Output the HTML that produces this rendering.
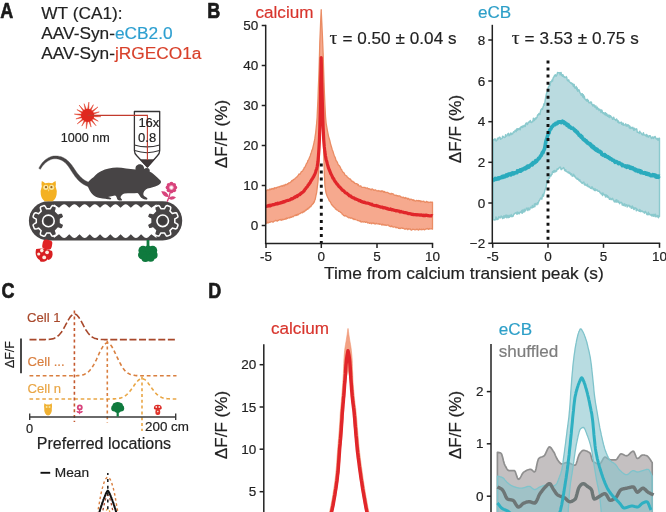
<!DOCTYPE html>
<html lang="en"><head><meta charset="utf-8"><title>Figure</title>
<style>
html,body{margin:0;padding:0;background:#fff;}
body{width:666px;height:512px;overflow:hidden;font-family:"Liberation Sans",sans-serif;}
svg{display:block;}
svg text{font-family:"Liberation Sans",sans-serif;stroke-width:0.18px;}
.lbl{font-weight:bold;font-size:17px;fill:#1a1a1a;}
.t17{font-size:17.1px;fill:#222;stroke:#222;}
.tk{font-size:13.5px;fill:#222;stroke:#222;}
.tau{font-family:"Liberation Serif",serif;font-size:19.5px;}
.ax{stroke:#222;stroke-width:1.5;fill:none;}
</style></head><body>
<svg width="666" height="512" viewBox="0 0 666 512">
<rect width="666" height="512" fill="#fff"/>
<text class="lbl" transform="translate(0.3 18.0) scale(0.8 1)" style="font-size:22.5px;stroke:#1a1a1a;stroke-width:0.7px;stroke-linejoin:round">A</text>
<text class="lbl" transform="translate(207.2 18.0) scale(0.8 1)" style="font-size:22.5px;stroke:#1a1a1a;stroke-width:0.7px;stroke-linejoin:round">B</text>
<text class="lbl" transform="translate(1.6 298.0) scale(0.8 1)" style="font-size:22.5px;stroke:#1a1a1a;stroke-width:0.7px;stroke-linejoin:round">C</text>
<text class="lbl" transform="translate(208.3 297.6) scale(0.8 1)" style="font-size:22.5px;stroke:#1a1a1a;stroke-width:0.7px;stroke-linejoin:round">D</text>
<text class="t17" x="41.3" y="18.8" style="font-size:17.3px">WT (CA1):</text>
<text class="t17" x="41.3" y="38.5" style="font-size:17.3px">AAV-Syn-<tspan fill="#2d9fd0" stroke="#2d9fd0">eCB2.0</tspan></text>
<text class="t17" x="41.3" y="58.8" style="font-size:17.3px">AAV-Syn-<tspan fill="#d8402a" stroke="#d8402a">jRGECO1a</tspan></text>
<text class="t17" x="255.5" y="17.8" fill="#d8342c" style="fill:#d8342c;stroke:#d8342c">calcium</text>
<text class="t17" x="478" y="18" style="fill:#2d9fc8;stroke:#2d9fc8">eCB</text>
<text class="t17" x="329.6" y="44" style="word-spacing:0.2px"><tspan class="tau">τ</tspan> = 0.50 ± 0.04 s</text>
<text class="t17" x="511.7" y="44" style="word-spacing:0.2px"><tspan class="tau">τ</tspan> = 3.53 ± 0.75 s</text>
<text class="t17" x="324" y="279" style="font-size:17.35px">Time from calcium transient peak (s)</text>
<text class="t17" text-anchor="middle" transform="translate(227.2 134.0) rotate(-90)">ΔF/F (%)</text>
<text class="t17" text-anchor="middle" transform="translate(461.4 129.0) rotate(-90)">ΔF/F (%)</text>
<text class="t17" text-anchor="middle" transform="translate(227.2 425.0) rotate(-90)">ΔF/F (%)</text>
<text class="t17" text-anchor="middle" transform="translate(461.4 425.0) rotate(-90)">ΔF/F (%)</text>
<text class="t17" x="271" y="334" style="fill:#d8342c;stroke:#d8342c">calcium</text>
<text class="t17" x="498.8" y="335" style="fill:#2d9fc8;stroke:#2d9fc8">eCB</text>
<text class="t17" x="498.8" y="357" style="fill:#7d7d7d;stroke:#7d7d7d">shuffled</text>
<path d="M266.0 190.2 L266.5 190.9 L266.9 190.6 L267.4 189.9 L267.8 190.1 L268.3 189.9 L268.8 190.0 L269.2 190.0 L269.7 189.1 L270.1 188.9 L270.6 189.7 L271.1 189.1 L271.5 189.4 L272.0 188.4 L272.4 188.8 L272.9 189.0 L273.4 188.3 L273.8 189.0 L274.3 188.9 L274.7 187.7 L275.2 187.6 L275.7 188.1 L276.1 188.4 L276.6 187.6 L277.0 187.3 L277.5 187.4 L278.0 186.8 L278.4 186.9 L278.9 187.0 L279.3 187.0 L279.8 186.5 L280.3 186.4 L280.7 186.2 L281.2 186.3 L281.6 186.0 L282.1 185.5 L282.6 186.3 L283.0 185.8 L283.5 185.7 L283.9 185.0 L284.4 185.8 L284.9 185.4 L285.3 184.3 L285.8 184.4 L286.2 184.7 L286.7 184.4 L287.2 184.5 L287.6 183.6 L288.1 183.9 L288.5 183.4 L289.0 182.7 L289.5 182.8 L289.9 182.8 L290.4 182.5 L290.8 181.8 L291.3 181.6 L291.8 180.6 L292.2 180.5 L292.7 180.8 L293.1 180.0 L293.6 179.3 L294.1 179.4 L294.5 179.2 L295.0 178.8 L295.4 178.0 L295.9 177.7 L296.4 177.3 L296.8 177.2 L297.3 176.5 L297.7 175.9 L298.2 175.5 L298.7 174.5 L299.1 174.0 L299.6 174.3 L300.0 174.2 L300.5 173.2 L301.0 172.4 L301.4 171.6 L301.9 171.4 L302.3 171.4 L302.8 170.5 L303.3 169.5 L303.7 169.2 L304.2 167.7 L304.6 167.3 L305.1 167.0 L305.6 165.7 L306.0 164.7 L306.5 163.6 L306.9 163.0 L307.4 162.5 L307.9 160.4 L308.3 160.3 L308.8 159.3 L309.2 158.3 L309.7 157.0 L310.2 156.0 L310.6 154.5 L311.1 153.3 L311.5 151.8 L312.0 150.0 L312.5 149.5 L312.9 147.5 L313.4 145.3 L313.8 143.7 L314.3 141.5 L314.8 138.9 L315.2 135.9 L315.7 132.6 L316.1 128.6 L316.6 123.7 L317.1 117.7 L317.5 108.9 L318.0 98.6 L318.4 86.6 L318.9 74.1 L319.4 58.3 L319.8 42.6 L320.3 30.8 L320.7 20.5 L321.2 9.7 L321.2 10.4 L321.8 22.9 L322.4 35.5 L323.1 52.9 L323.7 73.1 L324.3 90.4 L324.9 104.9 L325.5 116.3 L326.1 123.1 L326.8 127.2 L327.4 130.5 L328.0 133.6 L328.6 136.6 L329.2 138.5 L329.9 140.9 L330.5 143.8 L331.1 145.7 L331.7 147.7 L332.3 149.9 L332.9 151.3 L333.6 153.6 L334.2 155.4 L334.8 156.7 L335.4 158.1 L336.0 160.5 L336.7 161.3 L337.3 162.2 L337.9 163.8 L338.5 165.2 L339.1 165.3 L339.8 166.4 L340.4 167.5 L341.0 169.2 L341.6 169.5 L342.2 171.0 L342.8 171.9 L343.5 172.5 L344.1 173.0 L344.7 174.6 L345.3 175.2 L345.9 175.5 L346.6 175.8 L347.2 177.0 L347.8 177.3 L348.4 178.1 L349.0 178.3 L349.6 179.2 L350.3 179.0 L350.9 179.8 L351.5 181.1 L352.1 181.4 L352.7 181.2 L353.4 182.3 L354.0 182.1 L354.6 183.3 L355.2 183.5 L355.8 183.5 L356.4 183.7 L357.1 183.7 L357.7 185.1 L358.3 184.5 L358.9 185.7 L359.5 186.2 L360.2 186.0 L360.8 185.9 L361.4 187.0 L362.0 187.3 L362.6 187.3 L363.2 187.3 L363.9 187.3 L364.5 187.5 L365.1 187.5 L365.7 188.2 L366.3 188.1 L367.0 188.0 L367.6 188.0 L368.2 188.9 L368.8 188.6 L369.4 189.0 L370.0 188.9 L370.7 189.7 L371.3 189.8 L371.9 188.9 L372.5 189.2 L373.1 189.5 L373.8 190.4 L374.4 190.3 L375.0 189.8 L375.6 189.8 L376.2 190.5 L376.9 190.8 L377.5 191.0 L378.1 190.4 L378.7 191.1 L379.3 191.0 L379.9 190.9 L380.6 191.6 L381.2 190.8 L381.8 191.5 L382.4 190.9 L383.0 191.1 L383.7 192.2 L384.3 191.5 L384.9 192.3 L385.5 192.2 L386.1 192.7 L386.7 192.3 L387.4 192.4 L388.0 192.6 L388.6 193.4 L389.2 193.3 L389.8 193.9 L390.5 194.0 L391.1 193.3 L391.7 194.0 L392.3 193.7 L392.9 193.8 L393.5 194.0 L394.2 195.2 L394.8 195.3 L395.4 195.5 L396.0 195.1 L396.6 195.6 L397.3 196.0 L397.9 195.7 L398.5 196.1 L399.1 195.9 L399.7 195.9 L400.3 196.3 L401.0 197.2 L401.6 197.0 L402.2 197.7 L402.8 197.3 L403.4 197.2 L404.1 198.0 L404.7 198.3 L405.3 197.5 L405.9 198.5 L406.5 198.0 L407.1 198.2 L407.8 199.3 L408.4 198.4 L409.0 198.8 L409.6 199.9 L410.2 199.4 L410.9 199.2 L411.5 199.4 L412.1 199.6 L412.7 200.4 L413.3 199.7 L413.9 200.8 L414.6 200.3 L415.2 201.1 L415.8 201.1 L416.4 200.5 L417.0 200.5 L417.7 200.9 L418.3 200.5 L418.9 201.2 L419.5 200.6 L420.1 200.6 L420.8 201.9 L421.4 201.1 L422.0 201.5 L422.6 201.4 L423.2 201.3 L423.8 201.1 L424.5 202.2 L425.1 202.3 L425.7 202.4 L426.3 201.4 L426.9 201.6 L427.6 202.1 L428.2 202.6 L428.8 202.2 L429.4 202.4 L430.0 202.4 L430.6 202.0 L431.3 202.4 L431.9 202.2 L432.5 202.2 L432.5 229.2 L431.9 229.0 L431.3 228.7 L430.6 228.8 L430.0 228.9 L429.4 228.5 L428.8 229.4 L428.2 229.1 L427.6 228.4 L426.9 229.0 L426.3 228.7 L425.7 229.2 L425.1 229.5 L424.5 229.8 L423.8 229.1 L423.2 229.5 L422.6 229.3 L422.0 229.8 L421.4 229.1 L420.8 229.7 L420.1 229.5 L419.5 229.0 L418.9 229.8 L418.3 230.1 L417.7 229.6 L417.0 229.1 L416.4 229.6 L415.8 229.5 L415.2 229.8 L414.6 229.8 L413.9 229.3 L413.3 229.3 L412.7 229.1 L412.1 229.7 L411.5 230.1 L410.9 229.9 L410.2 228.9 L409.6 228.8 L409.0 229.1 L408.4 228.7 L407.8 229.7 L407.1 228.8 L406.5 228.5 L405.9 229.2 L405.3 228.9 L404.7 229.2 L404.1 228.8 L403.4 228.4 L402.8 228.1 L402.2 228.3 L401.6 227.9 L401.0 227.9 L400.3 228.5 L399.7 228.5 L399.1 228.2 L398.5 228.3 L397.9 227.6 L397.3 227.6 L396.6 227.2 L396.0 227.7 L395.4 227.1 L394.8 226.9 L394.2 226.9 L393.5 227.1 L392.9 227.0 L392.3 226.7 L391.7 225.8 L391.1 226.5 L390.5 226.6 L389.8 226.1 L389.2 226.2 L388.6 225.2 L388.0 225.1 L387.4 225.0 L386.7 225.2 L386.1 225.5 L385.5 225.0 L384.9 224.9 L384.3 225.0 L383.7 224.4 L383.0 225.0 L382.4 224.1 L381.8 225.0 L381.2 224.3 L380.6 224.1 L379.9 223.7 L379.3 224.3 L378.7 223.7 L378.1 224.0 L377.5 223.8 L376.9 223.8 L376.2 223.2 L375.6 223.9 L375.0 224.0 L374.4 223.3 L373.8 223.0 L373.1 223.6 L372.5 222.8 L371.9 223.1 L371.3 223.7 L370.7 222.8 L370.0 223.1 L369.4 223.4 L368.8 222.8 L368.2 222.6 L367.6 223.0 L367.0 222.0 L366.3 222.0 L365.7 222.4 L365.1 222.1 L364.5 221.6 L363.9 222.1 L363.2 221.9 L362.6 221.6 L362.0 221.9 L361.4 222.0 L360.8 221.8 L360.2 220.8 L359.5 221.2 L358.9 220.6 L358.3 220.6 L357.7 220.5 L357.1 220.0 L356.4 219.8 L355.8 219.6 L355.2 219.3 L354.6 219.2 L354.0 219.6 L353.4 218.7 L352.7 218.8 L352.1 218.1 L351.5 217.9 L350.9 218.3 L350.3 217.9 L349.6 217.5 L349.0 217.8 L348.4 217.6 L347.8 217.1 L347.2 216.8 L346.6 216.1 L345.9 216.0 L345.3 215.4 L344.7 216.0 L344.1 215.6 L343.5 215.3 L342.8 214.3 L342.2 214.1 L341.6 213.0 L341.0 212.7 L340.4 212.1 L339.8 211.7 L339.1 211.3 L338.5 211.3 L337.9 210.2 L337.3 210.1 L336.7 209.8 L336.0 208.9 L335.4 209.1 L334.8 207.6 L334.2 207.4 L333.6 206.6 L332.9 206.1 L332.3 204.8 L331.7 204.9 L331.1 203.5 L330.5 202.2 L329.9 201.4 L329.2 200.7 L328.6 199.0 L328.0 198.0 L327.4 196.8 L326.8 195.3 L326.1 193.0 L325.5 190.0 L324.9 185.4 L324.3 172.3 L323.7 152.3 L323.1 127.7 L322.4 101.2 L321.8 79.6 L321.2 60.3 L321.2 60.1 L320.7 91.2 L320.3 118.2 L319.8 141.9 L319.4 156.8 L318.9 165.9 L318.4 174.6 L318.0 181.4 L317.5 185.5 L317.1 189.0 L316.6 192.9 L316.1 194.9 L315.7 196.9 L315.2 199.5 L314.8 200.1 L314.3 202.2 L313.8 202.0 L313.4 203.5 L312.9 203.5 L312.5 204.4 L312.0 204.5 L311.5 205.8 L311.1 205.9 L310.6 206.9 L310.2 206.5 L309.7 207.0 L309.2 208.1 L308.8 208.1 L308.3 208.0 L307.9 209.3 L307.4 208.8 L306.9 209.2 L306.5 210.0 L306.0 209.6 L305.6 210.7 L305.1 210.4 L304.6 211.5 L304.2 211.6 L303.7 212.0 L303.3 211.3 L302.8 212.2 L302.3 212.8 L301.9 212.6 L301.4 212.4 L301.0 212.8 L300.5 213.3 L300.0 213.6 L299.6 213.7 L299.1 213.9 L298.7 214.3 L298.2 214.8 L297.7 214.2 L297.3 215.2 L296.8 214.6 L296.4 215.5 L295.9 214.8 L295.4 215.6 L295.0 215.4 L294.5 215.4 L294.1 215.9 L293.6 216.4 L293.1 216.8 L292.7 216.5 L292.2 216.5 L291.8 217.2 L291.3 217.3 L290.8 216.9 L290.4 217.6 L289.9 217.3 L289.5 218.0 L289.0 217.6 L288.5 217.8 L288.1 217.9 L287.6 218.3 L287.2 218.5 L286.7 217.9 L286.2 219.0 L285.8 219.1 L285.3 218.5 L284.9 219.2 L284.4 219.3 L283.9 219.5 L283.5 219.5 L283.0 219.6 L282.6 219.9 L282.1 219.1 L281.6 219.8 L281.2 220.3 L280.7 219.9 L280.3 219.5 L279.8 219.9 L279.3 219.6 L278.9 220.0 L278.4 220.4 L278.0 220.5 L277.5 221.0 L277.0 220.5 L276.6 220.6 L276.1 220.8 L275.7 220.4 L275.2 220.5 L274.7 220.9 L274.3 221.2 L273.8 221.4 L273.4 222.0 L272.9 222.1 L272.4 221.9 L272.0 221.6 L271.5 221.7 L271.1 221.5 L270.6 222.1 L270.1 222.2 L269.7 222.3 L269.2 222.1 L268.8 222.6 L268.3 222.8 L267.8 223.0 L267.4 222.2 L266.9 222.3 L266.5 223.4 L266.0 223.5Z" fill="#f6a98e" stroke="#ea8c64" stroke-width="1.3" stroke-linejoin="round"/>
<path d="M321.3 163.5 V243" stroke="#111" stroke-width="2.9" stroke-dasharray="3 4.05" fill="none"/>
<path d="M266.0 206.3 L266.5 206.4 L266.9 206.2 L267.4 206.2 L267.8 206.1 L268.3 205.6 L268.8 205.4 L269.2 205.9 L269.7 205.4 L270.1 205.2 L270.6 205.7 L271.1 205.2 L271.5 205.3 L272.0 204.9 L272.4 204.9 L272.9 204.5 L273.4 204.7 L273.8 204.8 L274.3 204.4 L274.7 204.4 L275.2 204.3 L275.7 203.7 L276.1 204.1 L276.6 203.9 L277.0 203.6 L277.5 203.2 L278.0 203.7 L278.4 203.3 L278.9 203.4 L279.3 203.3 L279.8 203.1 L280.3 203.1 L280.7 202.6 L281.2 202.8 L281.6 202.4 L282.1 202.6 L282.6 202.4 L283.0 201.7 L283.5 201.6 L283.9 201.5 L284.4 201.9 L284.9 201.4 L285.3 201.3 L285.8 200.9 L286.2 200.9 L286.7 200.7 L287.2 200.5 L287.6 200.5 L288.1 200.3 L288.5 200.3 L289.0 200.0 L289.5 200.0 L289.9 199.8 L290.4 199.7 L290.8 199.3 L291.3 198.7 L291.8 199.0 L292.2 198.9 L292.7 198.6 L293.1 198.2 L293.6 198.1 L294.1 197.5 L294.5 197.7 L295.0 197.3 L295.4 196.8 L295.9 196.4 L296.4 196.7 L296.8 196.6 L297.3 195.7 L297.7 195.9 L298.2 195.3 L298.7 194.9 L299.1 194.7 L299.6 194.7 L300.0 194.5 L300.5 193.5 L301.0 193.6 L301.4 192.9 L301.9 193.0 L302.3 192.3 L302.8 192.2 L303.3 191.9 L303.7 191.1 L304.2 190.9 L304.6 189.9 L305.1 189.2 L305.6 189.0 L306.0 188.0 L306.5 187.6 L306.9 187.1 L307.4 186.6 L307.9 185.6 L308.3 184.9 L308.8 184.7 L309.2 183.6 L309.7 183.3 L310.2 182.6 L310.6 181.4 L311.1 180.7 L311.5 179.9 L312.0 179.3 L312.5 178.5 L312.9 177.7 L313.4 177.0 L313.8 176.4 L314.3 175.2 L314.8 174.2 L315.2 173.3 L315.7 171.7 L316.1 170.3 L316.6 169.2 L317.1 167.0 L317.5 164.9 L318.0 161.3 L318.4 156.3 L318.9 149.3 L319.4 140.0 L319.8 128.1 L320.3 106.3 L320.7 82.4 L321.2 57.7 L321.2 57.6 L321.8 81.2 L322.4 103.7 L323.1 126.6 L323.7 139.6 L324.3 146.9 L324.9 152.1 L325.5 156.1 L326.1 159.4 L326.8 161.6 L327.4 164.2 L328.0 166.4 L328.6 168.1 L329.2 169.8 L329.9 171.3 L330.5 172.8 L331.1 174.3 L331.7 175.3 L332.3 176.6 L332.9 178.1 L333.6 178.6 L334.2 180.0 L334.8 181.1 L335.4 181.8 L336.0 182.6 L336.7 183.8 L337.3 184.2 L337.9 185.0 L338.5 185.9 L339.1 186.7 L339.8 187.0 L340.4 187.8 L341.0 188.4 L341.6 189.3 L342.2 189.6 L342.8 190.5 L343.5 190.6 L344.1 191.2 L344.7 192.0 L345.3 192.7 L345.9 192.9 L346.6 193.2 L347.2 193.6 L347.8 194.4 L348.4 194.6 L349.0 195.4 L349.6 195.9 L350.3 195.8 L350.9 196.3 L351.5 197.0 L352.1 197.3 L352.7 197.7 L353.4 197.8 L354.0 197.9 L354.6 198.4 L355.2 199.0 L355.8 198.9 L356.4 199.3 L357.1 199.6 L357.7 199.8 L358.3 200.1 L358.9 200.7 L359.5 200.4 L360.2 200.5 L360.8 201.4 L361.4 201.6 L362.0 201.9 L362.6 201.7 L363.2 202.2 L363.9 202.4 L364.5 202.1 L365.1 202.7 L365.7 202.9 L366.3 203.0 L367.0 203.1 L367.6 203.1 L368.2 203.3 L368.8 203.5 L369.4 203.5 L370.0 204.1 L370.7 204.1 L371.3 204.6 L371.9 204.2 L372.5 205.0 L373.1 205.1 L373.8 205.4 L374.4 205.5 L375.0 205.7 L375.6 205.7 L376.2 205.4 L376.9 206.1 L377.5 205.9 L378.1 206.1 L378.7 206.5 L379.3 206.6 L379.9 206.7 L380.6 207.2 L381.2 207.1 L381.8 207.1 L382.4 207.2 L383.0 207.8 L383.7 207.6 L384.3 208.0 L384.9 207.9 L385.5 207.9 L386.1 208.3 L386.7 208.7 L387.4 208.4 L388.0 209.0 L388.6 209.2 L389.2 209.3 L389.8 209.4 L390.5 209.0 L391.1 209.6 L391.7 209.9 L392.3 209.5 L392.9 209.8 L393.5 210.0 L394.2 210.3 L394.8 210.4 L395.4 210.5 L396.0 210.9 L396.6 210.5 L397.3 210.7 L397.9 210.9 L398.5 211.0 L399.1 211.1 L399.7 211.9 L400.3 211.9 L401.0 211.5 L401.6 212.0 L402.2 212.0 L402.8 212.1 L403.4 212.3 L404.1 212.6 L404.7 212.7 L405.3 212.7 L405.9 212.7 L406.5 213.0 L407.1 213.0 L407.8 213.4 L408.4 213.7 L409.0 213.6 L409.6 213.5 L410.2 213.7 L410.9 213.9 L411.5 214.2 L412.1 214.4 L412.7 214.2 L413.3 214.6 L413.9 214.6 L414.6 214.5 L415.2 214.5 L415.8 214.7 L416.4 214.9 L417.0 214.7 L417.7 215.0 L418.3 214.9 L418.9 214.8 L419.5 215.0 L420.1 215.2 L420.8 214.8 L421.4 215.1 L422.0 215.1 L422.6 215.5 L423.2 215.6 L423.8 215.2 L424.5 215.6 L425.1 215.6 L425.7 215.2 L426.3 215.4 L426.9 215.2 L427.6 215.7 L428.2 215.6 L428.8 215.8 L429.4 215.8 L430.0 215.8 L430.6 215.8 L431.3 215.8 L431.9 215.5 L432.5 215.9" fill="none" stroke="#e1262a" stroke-width="3.2" stroke-linejoin="round"/>
<path class="ax" d="M265.7 24.8 V243.5"/>
<path class="ax" d="M261.7 25.5 H265.7"/>
<text class="tk" text-anchor="end" x="258.2" y="30.1">50</text>
<path class="ax" d="M261.7 65.5 H265.7"/>
<text class="tk" text-anchor="end" x="258.2" y="70.1">40</text>
<path class="ax" d="M261.7 105.5 H265.7"/>
<text class="tk" text-anchor="end" x="258.2" y="110.1">30</text>
<path class="ax" d="M261.7 145.5 H265.7"/>
<text class="tk" text-anchor="end" x="258.2" y="150.1">20</text>
<path class="ax" d="M261.7 185.5 H265.7"/>
<text class="tk" text-anchor="end" x="258.2" y="190.1">10</text>
<path class="ax" d="M261.7 225.5 H265.7"/>
<text class="tk" text-anchor="end" x="258.2" y="230.1">0</text>
<path class="ax" d="M264.9 243.5 H433.2"/>
<path class="ax" d="M266.0 243.5 V248.0"/>
<text class="tk" text-anchor="middle" x="266.0" y="260.8">-5</text>
<path class="ax" d="M321.3 243.5 V248.0"/>
<text class="tk" text-anchor="middle" x="321.3" y="260.8">0</text>
<path class="ax" d="M377.0 243.5 V248.0"/>
<text class="tk" text-anchor="middle" x="377.0" y="260.8">5</text>
<path class="ax" d="M432.5 243.5 V248.0"/>
<text class="tk" text-anchor="middle" x="432.5" y="260.8">10</text>
<path d="M493.0 140.2 L493.5 139.5 L494.0 140.3 L494.5 139.3 L495.0 138.8 L495.5 139.7 L496.0 141.1 L496.5 140.5 L497.0 140.2 L497.5 138.3 L498.0 139.1 L498.6 138.1 L499.1 137.5 L499.6 137.1 L500.1 137.3 L500.6 139.4 L501.1 138.8 L501.6 138.6 L502.1 138.3 L502.6 136.2 L503.1 136.4 L503.6 137.2 L504.1 137.3 L504.6 137.5 L505.1 137.4 L505.6 134.6 L506.1 136.1 L506.6 136.1 L507.1 135.3 L507.6 134.0 L508.1 134.8 L508.6 133.3 L509.1 135.8 L509.6 135.3 L510.2 134.1 L510.7 133.0 L511.2 134.7 L511.7 133.4 L512.2 134.1 L512.7 133.8 L513.2 132.4 L513.7 131.8 L514.2 132.2 L514.7 131.3 L515.2 130.2 L515.7 130.4 L516.2 131.7 L516.7 129.0 L517.2 128.7 L517.7 130.2 L518.2 128.8 L518.7 129.3 L519.2 128.8 L519.7 128.1 L520.2 129.9 L520.8 127.0 L521.3 127.4 L521.8 126.4 L522.3 127.5 L522.8 126.0 L523.3 125.9 L523.8 126.9 L524.3 125.2 L524.8 125.6 L525.3 126.4 L525.8 123.5 L526.3 123.0 L526.8 123.2 L527.3 124.6 L527.8 123.8 L528.3 122.3 L528.8 122.3 L529.3 121.5 L529.8 122.0 L530.3 120.4 L530.8 122.2 L531.3 122.5 L531.9 122.3 L532.4 121.3 L532.9 121.6 L533.4 118.2 L533.9 118.7 L534.4 120.5 L534.9 119.5 L535.4 117.9 L535.9 119.1 L536.4 117.6 L536.9 117.8 L537.4 115.6 L537.9 114.7 L538.4 115.0 L538.9 113.4 L539.4 113.5 L539.9 114.6 L540.4 111.8 L540.9 109.9 L541.4 109.2 L541.9 108.6 L542.4 109.5 L543.0 107.1 L543.5 105.7 L544.0 103.8 L544.5 105.1 L545.0 101.4 L545.5 98.4 L546.0 95.7 L546.5 93.5 L547.0 92.0 L547.5 92.0 L548.0 88.7 L548.5 86.8 L549.0 86.7 L549.5 84.5 L550.0 85.6 L550.5 81.6 L551.0 81.9 L551.5 81.8 L552.0 79.9 L552.5 81.0 L553.0 78.6 L553.5 77.2 L554.0 77.0 L554.6 75.2 L555.1 75.8 L555.6 74.7 L556.1 76.2 L556.6 75.6 L557.1 74.2 L557.6 72.4 L558.1 72.9 L558.6 72.7 L559.1 72.6 L559.6 72.7 L560.1 74.8 L560.6 72.6 L561.1 72.5 L561.6 75.6 L562.1 74.7 L562.6 76.4 L563.1 74.8 L563.6 76.8 L564.1 76.4 L564.6 77.3 L565.1 77.6 L565.7 77.3 L566.2 76.5 L566.7 77.3 L567.2 80.0 L567.7 80.5 L568.2 81.1 L568.7 79.8 L569.2 81.3 L569.7 82.2 L570.2 82.2 L570.7 83.2 L571.2 82.8 L571.7 83.6 L572.2 84.2 L572.7 83.4 L573.2 86.0 L573.7 86.6 L574.2 84.4 L574.7 87.8 L575.2 88.3 L575.7 88.0 L576.2 86.5 L576.8 89.9 L577.3 88.0 L577.8 91.3 L578.3 90.9 L578.8 89.6 L579.3 90.5 L579.8 92.6 L580.3 93.0 L580.8 94.2 L581.3 95.4 L581.8 93.7 L582.3 93.6 L582.8 97.1 L583.3 94.7 L583.8 98.0 L584.3 96.1 L584.8 98.9 L585.3 99.3 L585.8 100.1 L586.3 99.5 L586.8 101.0 L587.4 99.3 L587.9 101.2 L588.4 100.6 L588.9 102.8 L589.4 102.9 L589.9 102.4 L590.4 103.0 L590.9 101.8 L591.4 102.2 L591.9 104.5 L592.4 104.5 L592.9 106.1 L593.4 105.7 L593.9 104.6 L594.4 105.7 L594.9 107.4 L595.4 107.0 L595.9 105.8 L596.4 108.8 L596.9 109.1 L597.4 107.1 L597.9 109.0 L598.5 108.8 L599.0 110.5 L599.5 109.3 L600.0 109.4 L600.5 110.6 L601.0 112.5 L601.5 110.0 L602.0 110.4 L602.5 112.4 L603.0 113.6 L603.5 112.7 L604.0 112.8 L604.5 114.5 L605.0 114.5 L605.5 112.6 L606.0 115.5 L606.5 113.6 L607.0 114.2 L607.5 116.3 L608.0 115.2 L608.5 116.7 L609.0 115.0 L609.5 117.6 L610.1 115.6 L610.6 115.8 L611.1 117.2 L611.6 117.0 L612.1 118.0 L612.6 119.4 L613.1 119.1 L613.6 117.1 L614.1 118.3 L614.6 119.4 L615.1 119.5 L615.6 120.5 L616.1 120.0 L616.6 119.0 L617.1 119.8 L617.6 122.0 L618.1 120.7 L618.6 122.3 L619.1 123.2 L619.6 122.3 L620.1 122.8 L620.6 122.8 L621.2 122.1 L621.7 124.3 L622.2 123.1 L622.7 124.8 L623.2 123.1 L623.7 125.2 L624.2 125.1 L624.7 124.8 L625.2 124.5 L625.7 123.8 L626.2 126.1 L626.7 125.0 L627.2 126.2 L627.7 124.8 L628.2 124.9 L628.7 125.3 L629.2 127.7 L629.7 125.9 L630.2 128.5 L630.7 127.1 L631.2 128.0 L631.8 127.5 L632.3 128.6 L632.8 127.2 L633.3 128.4 L633.8 130.4 L634.3 128.3 L634.8 130.0 L635.3 129.3 L635.8 129.4 L636.3 128.8 L636.8 129.1 L637.3 132.3 L637.8 132.2 L638.3 132.4 L638.8 132.6 L639.3 133.4 L639.8 131.1 L640.3 132.7 L640.8 132.7 L641.3 133.2 L641.8 134.6 L642.3 134.2 L642.9 135.1 L643.4 132.6 L643.9 134.6 L644.4 134.9 L644.9 135.3 L645.4 135.1 L645.9 136.0 L646.4 134.5 L646.9 136.7 L647.4 135.2 L647.9 136.0 L648.4 137.2 L648.9 136.7 L649.4 135.6 L649.9 135.6 L650.4 136.0 L650.9 137.2 L651.4 138.5 L651.9 138.4 L652.4 136.9 L652.9 137.1 L653.4 138.6 L654.0 137.0 L654.5 137.6 L655.0 136.5 L655.5 137.2 L656.0 138.5 L656.5 139.1 L657.0 139.1 L657.5 138.4 L658.0 140.4 L658.5 139.6 L659.0 138.2 L659.5 138.1 L659.5 216.6 L659.0 215.4 L658.5 217.7 L658.0 217.2 L657.5 215.5 L657.0 215.8 L656.5 216.5 L656.0 216.8 L655.5 214.2 L655.0 216.6 L654.5 214.7 L654.0 214.3 L653.4 216.2 L652.9 214.6 L652.4 214.5 L651.9 216.0 L651.4 214.5 L650.9 214.9 L650.4 215.0 L649.9 214.4 L649.4 213.8 L648.9 214.8 L648.4 212.2 L647.9 213.7 L647.4 214.7 L646.9 214.6 L646.4 213.0 L645.9 212.2 L645.4 211.3 L644.9 212.9 L644.4 213.2 L643.9 211.8 L643.4 212.0 L642.9 212.0 L642.3 211.0 L641.8 211.0 L641.3 211.4 L640.8 210.5 L640.3 211.7 L639.8 209.5 L639.3 211.3 L638.8 210.6 L638.3 210.5 L637.8 209.8 L637.3 210.0 L636.8 208.8 L636.3 210.8 L635.8 207.9 L635.3 208.0 L634.8 207.8 L634.3 209.3 L633.8 209.5 L633.3 207.2 L632.8 207.8 L632.3 206.0 L631.8 208.3 L631.2 208.0 L630.7 206.2 L630.2 206.5 L629.7 206.9 L629.2 205.1 L628.7 206.0 L628.2 205.2 L627.7 205.7 L627.2 207.1 L626.7 204.7 L626.2 204.9 L625.7 204.9 L625.2 206.3 L624.7 203.8 L624.2 204.7 L623.7 205.5 L623.2 205.4 L622.7 203.4 L622.2 205.1 L621.7 202.7 L621.2 202.3 L620.6 202.7 L620.1 202.4 L619.6 203.8 L619.1 202.8 L618.6 201.0 L618.1 202.3 L617.6 201.9 L617.1 200.2 L616.6 199.7 L616.1 202.3 L615.6 200.3 L615.1 200.9 L614.6 201.9 L614.1 201.6 L613.6 200.1 L613.1 200.0 L612.6 198.3 L612.1 198.8 L611.6 199.4 L611.1 199.7 L610.6 198.2 L610.1 199.2 L609.5 199.4 L609.0 198.0 L608.5 196.9 L608.0 197.4 L607.5 195.7 L607.0 197.1 L606.5 194.9 L606.0 195.8 L605.5 197.0 L605.0 194.4 L604.5 195.1 L604.0 194.4 L603.5 194.5 L603.0 193.0 L602.5 195.6 L602.0 193.2 L601.5 194.0 L601.0 193.8 L600.5 192.8 L600.0 192.8 L599.5 191.2 L599.0 191.4 L598.5 191.1 L597.9 191.2 L597.4 190.3 L596.9 189.8 L596.4 190.0 L595.9 190.5 L595.4 188.9 L594.9 190.5 L594.4 190.3 L593.9 188.5 L593.4 189.6 L592.9 188.6 L592.4 187.4 L591.9 186.7 L591.4 188.6 L590.9 188.0 L590.4 188.2 L589.9 187.4 L589.4 186.4 L588.9 186.9 L588.4 186.3 L587.9 186.6 L587.4 184.3 L586.8 185.8 L586.3 185.4 L585.8 185.0 L585.3 184.0 L584.8 185.1 L584.3 184.5 L583.8 182.0 L583.3 182.8 L582.8 182.4 L582.3 183.4 L581.8 183.1 L581.3 181.9 L580.8 182.1 L580.3 181.6 L579.8 179.7 L579.3 180.8 L578.8 180.2 L578.3 179.5 L577.8 178.2 L577.3 179.3 L576.8 178.4 L576.2 178.6 L575.7 177.1 L575.2 177.4 L574.7 175.7 L574.2 176.3 L573.7 174.2 L573.2 175.7 L572.7 175.6 L572.2 176.2 L571.7 173.8 L571.2 174.7 L570.7 174.7 L570.2 173.4 L569.7 172.4 L569.2 173.4 L568.7 171.9 L568.2 172.8 L567.7 172.1 L567.2 171.8 L566.7 171.7 L566.2 171.4 L565.7 169.6 L565.1 170.9 L564.6 170.3 L564.1 168.4 L563.6 167.5 L563.1 168.1 L562.6 168.4 L562.1 168.6 L561.6 169.6 L561.1 169.6 L560.6 167.6 L560.1 166.9 L559.6 167.8 L559.1 167.6 L558.6 168.3 L558.1 169.3 L557.6 168.8 L557.1 169.0 L556.6 171.0 L556.1 170.9 L555.6 171.8 L555.1 170.4 L554.6 170.4 L554.0 172.6 L553.5 170.8 L553.0 172.2 L552.5 171.7 L552.0 174.4 L551.5 174.4 L551.0 176.0 L550.5 176.0 L550.0 175.0 L549.5 178.2 L549.0 178.1 L548.5 177.8 L548.0 181.8 L547.5 180.3 L547.0 182.8 L546.5 184.4 L546.0 187.5 L545.5 188.8 L545.0 189.7 L544.5 191.9 L544.0 193.7 L543.5 196.2 L543.0 194.2 L542.4 195.5 L541.9 199.1 L541.4 199.0 L540.9 198.0 L540.4 198.5 L539.9 199.5 L539.4 200.5 L538.9 201.1 L538.4 202.4 L537.9 204.0 L537.4 202.6 L536.9 204.9 L536.4 204.3 L535.9 203.9 L535.4 203.5 L534.9 206.6 L534.4 204.0 L533.9 207.0 L533.4 207.1 L532.9 207.3 L532.4 205.5 L531.9 208.0 L531.3 207.4 L530.8 207.2 L530.3 207.4 L529.8 209.6 L529.3 209.8 L528.8 209.5 L528.3 207.9 L527.8 210.6 L527.3 208.4 L526.8 208.2 L526.3 208.3 L525.8 210.3 L525.3 209.9 L524.8 211.5 L524.3 209.2 L523.8 212.1 L523.3 212.0 L522.8 209.9 L522.3 213.2 L521.8 210.4 L521.3 212.7 L520.8 212.2 L520.2 211.9 L519.7 212.6 L519.2 213.9 L518.7 212.4 L518.2 212.7 L517.7 214.0 L517.2 212.0 L516.7 214.1 L516.2 213.3 L515.7 212.7 L515.2 213.1 L514.7 213.4 L514.2 214.2 L513.7 214.1 L513.2 216.2 L512.7 216.5 L512.2 215.8 L511.7 216.7 L511.2 214.5 L510.7 216.2 L510.2 215.8 L509.6 217.3 L509.1 215.3 L508.6 217.3 L508.1 217.7 L507.6 215.4 L507.1 215.5 L506.6 217.7 L506.1 215.0 L505.6 215.5 L505.1 217.2 L504.6 215.8 L504.1 218.0 L503.6 216.0 L503.1 218.0 L502.6 218.6 L502.1 216.7 L501.6 216.6 L501.1 216.0 L500.6 217.9 L500.1 217.9 L499.6 217.0 L499.1 217.8 L498.6 216.8 L498.0 219.4 L497.5 218.6 L497.0 219.7 L496.5 218.2 L496.0 216.9 L495.5 219.9 L495.0 219.4 L494.5 220.1 L494.0 219.8 L493.5 219.7 L493.0 219.4Z" fill="#badbe0" stroke="#8ac9cd" stroke-width="1.4" stroke-linejoin="round"/>
<path d="M493.0 180.5 L493.6 180.4 L494.1 179.6 L494.7 179.0 L495.2 178.4 L495.8 179.4 L496.3 178.9 L496.9 179.2 L497.4 178.3 L498.0 178.9 L498.6 177.8 L499.1 178.6 L499.7 178.2 L500.2 177.5 L500.8 177.5 L501.3 177.6 L501.9 176.6 L502.4 177.0 L503.0 177.3 L503.5 176.1 L504.1 176.9 L504.7 176.5 L505.2 176.6 L505.8 175.5 L506.3 174.9 L506.9 176.0 L507.4 175.8 L508.0 175.0 L508.5 174.1 L509.1 174.1 L509.6 174.7 L510.2 173.9 L510.8 174.9 L511.3 174.0 L511.9 173.1 L512.4 173.8 L513.0 173.0 L513.5 173.9 L514.1 173.6 L514.6 172.7 L515.2 172.8 L515.8 172.7 L516.3 172.7 L516.9 172.8 L517.4 170.9 L518.0 171.3 L518.5 171.5 L519.1 170.7 L519.6 171.0 L520.2 169.9 L520.8 171.1 L521.3 170.2 L521.9 169.3 L522.4 170.0 L523.0 169.1 L523.5 168.7 L524.1 168.9 L524.6 168.0 L525.2 167.9 L525.7 168.8 L526.3 168.2 L526.9 166.7 L527.4 167.7 L528.0 166.0 L528.5 166.3 L529.1 167.0 L529.6 166.1 L530.2 165.2 L530.7 164.9 L531.3 164.6 L531.9 163.7 L532.4 164.9 L533.0 162.7 L533.5 163.0 L534.1 163.1 L534.6 162.0 L535.2 162.6 L535.7 160.7 L536.3 161.6 L536.8 160.9 L537.4 159.9 L538.0 159.7 L538.5 158.4 L539.1 158.5 L539.6 157.8 L540.2 156.6 L540.7 155.8 L541.3 155.4 L541.8 154.0 L542.4 152.5 L543.0 152.7 L543.5 150.7 L544.1 149.8 L544.6 148.6 L545.2 145.2 L545.7 142.3 L546.3 140.0 L546.8 138.7 L547.4 136.6 L547.9 134.8 L548.5 133.5 L549.1 132.9 L549.6 130.3 L550.2 129.4 L550.7 129.2 L551.3 128.0 L551.8 126.7 L552.4 126.5 L552.9 126.0 L553.5 124.9 L554.0 124.8 L554.6 124.2 L555.2 124.6 L555.7 123.4 L556.3 123.6 L556.8 123.8 L557.4 123.4 L557.9 122.2 L558.5 122.4 L559.0 121.7 L559.6 121.7 L560.2 121.8 L560.7 122.3 L561.3 122.6 L561.8 121.6 L562.4 121.2 L562.9 122.2 L563.5 121.7 L564.0 121.9 L564.6 123.5 L565.1 122.7 L565.7 124.1 L566.3 123.8 L566.8 125.3 L567.4 125.5 L567.9 124.5 L568.5 125.1 L569.0 126.9 L569.6 126.7 L570.1 126.8 L570.7 127.8 L571.3 128.2 L571.8 128.1 L572.4 128.4 L572.9 128.2 L573.5 129.1 L574.0 129.2 L574.6 130.5 L575.1 131.0 L575.7 130.6 L576.2 132.0 L576.8 131.6 L577.4 132.1 L577.9 133.6 L578.5 133.8 L579.0 135.2 L579.6 135.2 L580.1 135.9 L580.7 135.4 L581.2 137.2 L581.8 136.4 L582.4 137.9 L582.9 138.9 L583.5 139.5 L584.0 140.0 L584.6 139.7 L585.1 140.6 L585.7 141.3 L586.2 140.6 L586.8 142.5 L587.4 142.9 L587.9 142.5 L588.5 143.6 L589.0 143.5 L589.6 143.6 L590.1 144.9 L590.7 144.2 L591.2 146.0 L591.8 146.8 L592.3 146.0 L592.9 147.6 L593.5 146.5 L594.0 148.4 L594.6 147.8 L595.1 149.4 L595.7 148.9 L596.2 150.2 L596.8 149.1 L597.3 149.6 L597.9 151.3 L598.5 151.4 L599.0 151.7 L599.6 151.1 L600.1 151.8 L600.7 152.5 L601.2 152.3 L601.8 154.4 L602.3 154.4 L602.9 155.1 L603.4 155.0 L604.0 154.7 L604.6 154.6 L605.1 156.2 L605.7 155.4 L606.2 156.5 L606.8 156.8 L607.3 157.2 L607.9 156.7 L608.4 157.1 L609.0 158.2 L609.5 157.7 L610.1 158.9 L610.7 158.5 L611.2 159.1 L611.8 159.2 L612.3 160.2 L612.9 160.2 L613.4 160.2 L614.0 160.5 L614.5 161.4 L615.1 162.3 L615.7 161.7 L616.2 161.5 L616.8 162.0 L617.3 162.2 L617.9 163.0 L618.4 163.6 L619.0 163.5 L619.5 163.0 L620.1 163.5 L620.6 163.8 L621.2 164.2 L621.8 164.3 L622.3 165.6 L622.9 165.0 L623.4 165.4 L624.0 165.8 L624.5 165.8 L625.1 166.3 L625.6 165.8 L626.2 166.5 L626.8 167.3 L627.3 166.0 L627.9 167.0 L628.4 166.8 L629.0 166.4 L629.5 166.6 L630.1 168.1 L630.6 167.2 L631.2 168.5 L631.8 167.6 L632.3 168.3 L632.9 167.9 L633.4 169.0 L634.0 169.7 L634.5 168.9 L635.1 169.7 L635.6 170.6 L636.2 169.6 L636.7 170.2 L637.3 170.8 L637.9 171.3 L638.4 170.3 L639.0 171.4 L639.5 170.6 L640.1 170.8 L640.6 172.6 L641.2 171.1 L641.7 172.8 L642.3 172.7 L642.9 172.8 L643.4 173.1 L644.0 173.1 L644.5 172.7 L645.1 173.1 L645.6 172.8 L646.2 174.2 L646.7 174.2 L647.3 174.4 L647.8 173.5 L648.4 174.4 L649.0 173.9 L649.5 175.0 L650.1 175.1 L650.6 175.7 L651.2 175.3 L651.7 175.4 L652.3 175.7 L652.8 174.6 L653.4 175.7 L654.0 174.8 L654.5 175.5 L655.1 175.2 L655.6 176.8 L656.2 175.3 L656.7 177.1 L657.3 177.2 L657.8 176.5 L658.4 177.3 L658.9 176.1 L659.5 176.4" fill="none" stroke="#2aabbd" stroke-width="3.6" stroke-linejoin="round"/>
<path d="M548 60.5 V243" stroke="#111" stroke-width="2.9" stroke-dasharray="3 4.05" fill="none"/>
<path class="ax" d="M492.3 24.8 V243.3"/>
<path class="ax" d="M488.3 40.0 H492.3"/>
<text class="tk" text-anchor="end" x="485.2" y="44.6">8</text>
<path class="ax" d="M488.3 81.0 H492.3"/>
<text class="tk" text-anchor="end" x="485.2" y="85.6">6</text>
<path class="ax" d="M488.3 121.7 H492.3"/>
<text class="tk" text-anchor="end" x="485.2" y="126.3">4</text>
<path class="ax" d="M488.3 162.3 H492.3"/>
<text class="tk" text-anchor="end" x="485.2" y="166.9">2</text>
<path class="ax" d="M488.3 203.0 H492.3"/>
<text class="tk" text-anchor="end" x="485.2" y="207.6">0</text>
<path class="ax" d="M488.3 243.3 H492.3"/>
<text class="tk" text-anchor="end" x="485.2" y="247.9">−2</text>
<path class="ax" d="M491.6 243.3 H660.2"/>
<path class="ax" d="M492.7 243.3 V247.8"/>
<text class="tk" text-anchor="middle" x="492.7" y="260.6">-5</text>
<path class="ax" d="M548.0 243.3 V247.8"/>
<text class="tk" text-anchor="middle" x="548.0" y="260.6">0</text>
<path class="ax" d="M603.5 243.3 V247.8"/>
<text class="tk" text-anchor="middle" x="603.5" y="260.6">5</text>
<path class="ax" d="M659.5 243.3 V247.8"/>
<text class="tk" text-anchor="middle" x="659.5" y="260.6">10</text>
<path d="M327.5 520.0 L328.3 516.8 L329.2 513.6 L329.9 510.4 L330.6 507.2 L331.2 504.0 L331.8 500.8 L332.4 497.6 L332.9 494.5 L333.4 491.3 L333.9 488.1 L334.4 484.9 L334.8 481.7 L335.2 478.5 L335.6 475.3 L335.9 472.1 L336.2 468.9 L336.5 465.7 L336.7 462.5 L336.9 459.3 L337.1 456.1 L337.4 452.9 L337.6 449.7 L337.9 446.6 L338.1 443.4 L338.4 440.2 L338.7 437.0 L338.9 433.8 L339.2 430.6 L339.4 427.4 L339.6 424.2 L339.8 421.0 L340.0 417.8 L340.2 414.6 L340.4 411.4 L340.7 408.2 L341.0 405.0 L341.3 401.8 L341.5 398.7 L341.8 395.5 L342.1 392.3 L342.3 389.1 L342.6 385.9 L342.8 382.7 L343.0 379.5 L343.2 376.3 L343.4 373.1 L343.5 369.9 L343.6 366.7 L343.8 363.5 L343.9 360.3 L344.1 357.1 L344.3 353.9 L344.6 350.8 L345.0 347.6 L345.5 344.4 L346.1 341.2 L346.6 338.0 L347.1 334.8 L347.5 331.6 L348.0 328.4 L348.0 328.4 L348.5 331.6 L348.9 334.8 L349.4 338.0 L349.9 341.2 L350.5 344.4 L351.0 347.6 L351.4 350.8 L351.7 353.9 L352.0 357.1 L352.2 360.3 L352.3 363.5 L352.4 366.7 L352.5 369.9 L352.7 373.1 L352.8 376.3 L352.9 379.5 L353.1 382.7 L353.4 385.9 L353.6 389.1 L353.9 392.3 L354.2 395.5 L354.5 398.7 L354.8 401.8 L355.2 405.0 L355.7 408.2 L356.0 411.4 L356.3 414.6 L356.6 417.8 L356.9 421.0 L357.1 424.2 L357.4 427.4 L357.6 430.6 L357.9 433.8 L358.2 437.0 L358.5 440.2 L358.7 443.4 L359.0 446.6 L359.4 449.7 L359.7 452.9 L360.1 456.1 L360.5 459.3 L360.9 462.5 L361.3 465.7 L361.8 468.9 L362.2 472.1 L362.7 475.3 L363.1 478.5 L363.6 481.7 L364.1 484.9 L364.6 488.1 L365.1 491.3 L365.6 494.5 L366.2 497.6 L366.8 500.8 L367.3 504.0 L367.9 507.2 L368.6 510.4 L369.2 513.6 L369.9 516.8 L370.6 520.0Z" fill="#f3a184" stroke="#ee9470" stroke-width="0.6" stroke-linejoin="round"/>
<path d="M330.9 520.0 L331.5 517.5 L332.2 515.0 L332.8 512.5 L333.4 510.1 L333.9 507.6 L334.4 505.1 L334.9 502.6 L335.3 500.1 L335.8 497.6 L336.2 495.2 L336.6 492.7 L337.0 490.2 L337.3 487.7 L337.7 485.2 L338.1 482.8 L338.4 480.3 L338.7 477.8 L339.0 475.3 L339.3 472.8 L339.5 470.3 L339.7 467.9 L339.9 465.4 L340.1 462.9 L340.3 460.4 L340.4 457.9 L340.6 455.4 L340.8 452.9 L340.9 450.5 L341.1 448.0 L341.3 445.5 L341.6 443.0 L341.8 440.5 L342.0 438.1 L342.2 435.6 L342.4 433.1 L342.6 430.6 L342.7 428.1 L342.9 425.6 L343.1 423.1 L343.2 420.7 L343.4 418.2 L343.5 415.7 L343.7 413.2 L343.9 410.7 L344.1 408.2 L344.3 405.8 L344.5 403.3 L344.8 400.8 L345.0 398.3 L345.2 395.8 L345.3 393.4 L345.5 390.9 L345.7 388.4 L345.8 385.9 L346.0 383.4 L346.2 380.9 L346.5 378.4 L346.9 376.0 L347.5 373.5 L348.0 371.0 L348.0 371.0 L348.5 373.5 L349.1 376.0 L349.5 378.4 L349.8 380.9 L350.0 383.4 L350.2 385.9 L350.3 388.4 L350.5 390.9 L350.6 393.4 L350.8 395.8 L351.0 398.3 L351.3 400.8 L351.6 403.3 L351.9 405.8 L352.3 408.2 L352.6 410.7 L352.8 413.2 L353.0 415.7 L353.2 418.2 L353.4 420.7 L353.6 423.1 L353.8 425.6 L354.0 428.1 L354.2 430.6 L354.4 433.1 L354.7 435.6 L354.9 438.1 L355.1 440.5 L355.3 443.0 L355.5 445.5 L355.8 448.0 L356.0 450.5 L356.3 452.9 L356.6 455.4 L356.9 457.9 L357.2 460.4 L357.6 462.9 L357.9 465.4 L358.2 467.9 L358.6 470.3 L358.9 472.8 L359.3 475.3 L359.6 477.8 L360.0 480.3 L360.4 482.8 L360.7 485.2 L361.1 487.7 L361.5 490.2 L361.9 492.7 L362.4 495.2 L362.8 497.6 L363.2 500.1 L363.7 502.6 L364.1 505.1 L364.6 507.6 L365.1 510.1 L365.6 512.5 L366.1 515.0 L366.7 517.5 L367.2 520.0Z" fill="#fff" stroke="none"/>
<path d="M329.5 520.0 L330.2 517.2 L331.0 514.4 L331.7 511.5 L332.3 508.7 L332.9 505.9 L333.4 503.1 L333.9 500.3 L334.4 497.4 L334.9 494.6 L335.3 491.8 L335.8 489.0 L336.2 486.2 L336.6 483.3 L337.0 480.5 L337.3 477.7 L337.6 474.9 L338.0 472.1 L338.2 469.2 L338.4 466.4 L338.6 463.6 L338.8 460.8 L339.0 458.0 L339.2 455.1 L339.4 452.3 L339.6 449.5 L339.8 446.7 L340.1 443.9 L340.3 441.0 L340.6 438.2 L340.8 435.4 L341.0 432.6 L341.2 429.8 L341.4 426.9 L341.6 424.1 L341.8 421.3 L342.0 418.5 L342.1 415.7 L342.3 412.8 L342.6 410.0 L342.8 407.2 L343.0 404.4 L343.3 401.6 L343.5 398.7 L343.8 395.9 L344.0 393.1 L344.2 390.3 L344.4 387.5 L344.6 384.6 L344.9 381.8 L345.1 379.0 L345.3 376.2 L345.5 373.4 L345.6 370.5 L345.8 367.7 L346.0 364.9 L346.3 362.1 L346.6 359.3 L347.0 356.4 L347.5 353.6 L348.0 350.8 L348.0 350.8 L348.6 353.6 L349.1 356.4 L349.5 359.3 L349.8 362.1 L350.0 364.9 L350.2 367.7 L350.4 370.5 L350.6 373.4 L350.7 376.2 L350.9 379.0 L351.1 381.8 L351.3 384.6 L351.5 387.5 L351.7 390.3 L352.0 393.1 L352.2 395.9 L352.5 398.7 L352.8 401.6 L353.2 404.4 L353.5 407.2 L353.9 410.0 L354.2 412.8 L354.4 415.7 L354.7 418.5 L354.9 421.3 L355.1 424.1 L355.3 426.9 L355.6 429.8 L355.8 432.6 L356.0 435.4 L356.3 438.2 L356.5 441.0 L356.8 443.9 L357.1 446.7 L357.3 449.5 L357.6 452.3 L358.0 455.1 L358.3 458.0 L358.7 460.8 L359.1 463.6 L359.4 466.4 L359.8 469.2 L360.2 472.1 L360.6 474.9 L361.0 477.7 L361.4 480.5 L361.9 483.3 L362.3 486.2 L362.7 489.0 L363.2 491.8 L363.7 494.6 L364.2 497.4 L364.7 500.3 L365.2 503.1 L365.7 505.9 L366.2 508.7 L366.8 511.5 L367.4 514.4 L368.0 517.2 L368.6 520.0" fill="none" stroke="#e1262a" stroke-width="3.5" stroke-linejoin="round"/>
<path class="ax" d="M263.8 344.3 V512"/>
<path class="ax" d="M259.6 364.7 H263.8"/>
<text class="tk" text-anchor="end" x="256.3" y="369.3">20</text>
<path class="ax" d="M259.6 407.0 H263.8"/>
<text class="tk" text-anchor="end" x="256.3" y="411.6">15</text>
<path class="ax" d="M259.6 449.2 H263.8"/>
<text class="tk" text-anchor="end" x="256.3" y="453.8">10</text>
<path class="ax" d="M259.6 491.7 H263.8"/>
<text class="tk" text-anchor="end" x="256.3" y="496.3">5</text>
<path d="M497.4 530.0 L497.4 452.3 L498.1 452.4 L498.9 452.6 L499.7 452.7 L500.4 452.9 L501.2 453.4 L502.0 455.2 L502.8 458.0 L503.5 461.0 L504.3 463.8 L505.1 465.6 L505.9 467.0 L506.6 468.4 L507.4 469.6 L508.2 470.3 L509.0 470.6 L509.7 470.6 L510.5 470.6 L511.3 470.6 L512.1 470.6 L512.8 470.6 L513.6 470.6 L514.4 470.6 L515.2 471.5 L515.9 473.5 L516.7 475.9 L517.5 478.1 L518.3 479.3 L519.0 479.1 L519.8 478.3 L520.6 477.1 L521.4 475.7 L522.1 474.2 L522.9 473.0 L523.7 472.1 L524.5 471.6 L525.2 471.2 L526.0 470.7 L526.8 470.3 L527.5 470.0 L528.3 469.7 L529.1 469.5 L529.9 469.3 L530.6 469.3 L531.4 469.6 L532.2 470.2 L533.0 471.0 L533.7 471.7 L534.5 472.0 L535.3 471.2 L536.1 468.5 L536.8 464.9 L537.6 461.4 L538.4 459.0 L539.2 458.1 L539.9 457.6 L540.7 457.3 L541.5 457.0 L542.3 456.8 L543.0 456.4 L543.8 456.0 L544.6 455.3 L545.4 454.0 L546.1 452.4 L546.9 450.6 L547.7 448.9 L548.5 447.6 L549.2 446.9 L550.0 447.0 L550.8 447.6 L551.6 448.6 L552.3 449.7 L553.1 451.0 L553.9 452.2 L554.7 453.7 L555.4 455.5 L556.2 457.2 L557.0 458.8 L557.7 460.0 L558.5 461.1 L559.3 462.1 L560.1 463.0 L560.8 463.6 L561.6 463.9 L562.4 463.8 L563.2 463.6 L563.9 463.4 L564.7 463.1 L565.5 462.8 L566.3 462.6 L567.0 462.5 L567.8 462.6 L568.6 462.8 L569.4 463.1 L570.1 463.4 L570.9 463.8 L571.7 464.2 L572.5 464.5 L573.2 464.8 L574.0 465.1 L574.8 465.2 L575.6 465.0 L576.3 463.5 L577.1 461.0 L577.9 458.1 L578.7 455.7 L579.4 454.2 L580.2 453.0 L581.0 452.0 L581.8 451.2 L582.5 450.6 L583.3 450.4 L584.1 450.4 L584.9 450.5 L585.6 450.7 L586.4 451.0 L587.2 451.3 L587.9 451.7 L588.7 452.1 L589.5 452.7 L590.3 453.4 L591.0 455.7 L591.8 458.8 L592.6 461.0 L593.4 461.7 L594.1 462.2 L594.9 462.6 L595.7 463.0 L596.5 463.3 L597.2 463.6 L598.0 463.8 L598.8 463.9 L599.6 463.9 L600.3 463.5 L601.1 462.5 L601.9 461.1 L602.7 459.7 L603.4 458.4 L604.2 457.5 L605.0 457.1 L605.8 457.3 L606.5 457.7 L607.3 458.3 L608.1 458.8 L608.9 459.3 L609.6 459.7 L610.4 459.8 L611.2 459.8 L612.0 459.8 L612.7 459.8 L613.5 459.8 L614.3 459.8 L615.0 459.8 L615.8 459.8 L616.6 459.4 L617.4 458.5 L618.1 457.3 L618.9 456.1 L619.7 454.9 L620.5 454.1 L621.2 453.9 L622.0 454.0 L622.8 454.3 L623.6 454.7 L624.3 455.1 L625.1 455.5 L625.9 455.7 L626.7 455.8 L627.4 455.6 L628.2 455.1 L629.0 454.4 L629.8 453.6 L630.5 452.9 L631.3 452.1 L632.1 451.6 L632.9 451.2 L633.6 451.3 L634.4 452.5 L635.2 454.5 L636.0 456.5 L636.7 458.0 L637.5 458.5 L638.3 458.2 L639.1 457.7 L639.8 457.0 L640.6 456.2 L641.4 455.5 L642.2 455.1 L642.9 455.0 L643.7 455.0 L644.5 455.1 L645.2 455.3 L646.0 455.5 L646.8 455.8 L647.6 456.2 L648.3 457.0 L649.1 458.0 L649.9 459.1 L650.7 460.3 L651.4 461.5 L652.2 462.5 L652.2 530.0Z" fill="#c4c0c1" stroke="#8f8f8f" stroke-width="1.7" stroke-linejoin="round"/>
<path d="M497.4 530.0 L497.4 476.1 L497.7 476.2 L498.1 476.2 L498.5 476.3 L498.8 476.4 L499.2 476.5 L499.6 476.6 L499.9 476.7 L500.3 476.8 L500.7 476.9 L501.0 477.0 L501.4 477.1 L501.8 477.2 L502.1 477.4 L502.5 477.6 L502.9 477.8 L503.3 478.1 L503.6 478.4 L504.0 478.8 L504.4 479.2 L504.7 479.6 L505.1 480.1 L505.5 480.5 L505.8 481.0 L506.2 481.4 L506.6 481.8 L506.9 482.2 L507.3 482.5 L507.7 482.9 L508.0 483.1 L508.4 483.4 L508.8 483.7 L509.1 484.0 L509.5 484.3 L509.9 484.6 L510.3 484.8 L510.6 485.1 L511.0 485.3 L511.4 485.5 L511.7 485.7 L512.1 485.9 L512.5 486.1 L512.8 486.3 L513.2 486.4 L513.6 486.5 L513.9 486.6 L514.3 486.8 L514.7 486.9 L515.0 487.0 L515.4 487.1 L515.8 487.3 L516.2 487.4 L516.5 487.5 L516.9 487.6 L517.3 487.7 L517.6 487.8 L518.0 487.8 L518.4 487.9 L518.7 488.0 L519.1 488.1 L519.5 488.1 L519.8 488.1 L520.2 488.2 L520.6 488.2 L520.9 488.2 L521.3 488.2 L521.7 488.2 L522.1 488.1 L522.4 488.1 L522.8 488.0 L523.2 487.9 L523.5 487.8 L523.9 487.7 L524.3 487.6 L524.6 487.5 L525.0 487.3 L525.4 487.2 L525.7 487.1 L526.1 487.0 L526.5 486.8 L526.8 486.7 L527.2 486.6 L527.6 486.5 L528.0 486.5 L528.3 486.4 L528.7 486.3 L529.1 486.3 L529.4 486.3 L529.8 486.4 L530.2 486.6 L530.5 486.8 L530.9 487.1 L531.3 487.4 L531.6 487.7 L532.0 488.0 L532.4 488.3 L532.7 488.6 L533.1 488.9 L533.5 489.2 L533.9 489.4 L534.2 489.5 L534.6 489.6 L535.0 489.5 L535.3 489.5 L535.7 489.4 L536.1 489.2 L536.4 489.0 L536.8 488.8 L537.2 488.6 L537.5 488.3 L537.9 488.1 L538.3 487.8 L538.6 487.6 L539.0 487.4 L539.4 487.2 L539.8 487.0 L540.1 486.8 L540.5 486.7 L540.9 486.6 L541.2 486.4 L541.6 486.3 L542.0 486.2 L542.3 486.0 L542.7 485.9 L543.1 485.8 L543.4 485.6 L543.8 485.5 L544.2 485.4 L544.5 485.3 L544.9 485.2 L545.3 485.1 L545.6 485.0 L546.0 484.9 L546.4 484.9 L546.8 484.8 L547.1 484.8 L547.5 484.7 L547.9 484.7 L548.2 484.7 L548.6 484.7 L549.0 484.8 L549.3 484.8 L549.7 484.9 L550.1 485.0 L550.4 485.1 L550.8 485.2 L551.2 485.3 L551.5 485.4 L551.9 485.5 L552.3 485.6 L552.7 485.7 L553.0 485.8 L553.4 485.8 L553.8 485.8 L554.1 485.7 L554.5 485.6 L554.9 485.4 L555.2 485.1 L555.6 484.8 L556.0 484.5 L556.3 484.2 L556.7 483.7 L557.1 483.1 L557.4 482.3 L557.8 481.3 L558.2 480.3 L558.6 479.2 L558.9 478.2 L559.3 477.3 L559.7 476.3 L560.0 475.4 L560.4 474.4 L560.8 473.4 L561.1 472.2 L561.5 470.9 L561.9 469.3 L562.2 467.3 L562.6 465.0 L563.0 462.4 L563.3 459.7 L563.7 456.9 L564.1 454.1 L564.5 451.3 L564.8 448.6 L565.2 445.8 L565.6 443.0 L565.9 440.1 L566.3 437.1 L566.7 434.2 L567.0 431.2 L567.4 428.4 L567.8 425.7 L568.1 423.0 L568.5 420.2 L568.9 417.1 L569.2 413.6 L569.6 409.4 L570.0 404.2 L570.4 398.7 L570.7 393.4 L571.1 388.1 L571.5 382.9 L571.8 378.2 L572.2 373.9 L572.6 369.8 L572.9 365.9 L573.3 362.4 L573.7 359.2 L574.0 356.4 L574.4 353.6 L574.8 351.1 L575.1 348.6 L575.5 346.3 L575.9 344.2 L576.3 342.2 L576.6 340.4 L577.0 338.6 L577.4 337.0 L577.7 335.5 L578.1 334.1 L578.5 332.9 L578.8 331.9 L579.2 331.1 L579.6 330.2 L579.9 329.5 L580.3 329.0 L580.7 328.8 L581.0 328.9 L581.4 329.3 L581.8 329.8 L582.1 330.4 L582.5 331.1 L582.9 331.8 L583.3 332.5 L583.6 333.2 L584.0 334.0 L584.4 334.9 L584.7 335.9 L585.1 336.9 L585.5 337.9 L585.8 339.0 L586.2 340.2 L586.6 341.4 L586.9 342.8 L587.3 344.2 L587.7 345.8 L588.0 347.3 L588.4 348.9 L588.8 350.5 L589.2 352.1 L589.5 353.8 L589.9 355.6 L590.3 357.6 L590.6 359.8 L591.0 362.5 L591.4 365.4 L591.7 368.7 L592.1 372.0 L592.5 375.5 L592.8 378.9 L593.2 382.5 L593.6 386.3 L593.9 390.2 L594.3 393.8 L594.7 397.1 L595.1 399.8 L595.4 402.3 L595.8 404.6 L596.2 406.7 L596.5 408.8 L596.9 410.8 L597.3 413.0 L597.6 415.1 L598.0 417.3 L598.4 419.5 L598.7 421.6 L599.1 423.7 L599.5 425.8 L599.8 427.7 L600.2 429.6 L600.6 431.4 L601.0 433.1 L601.3 434.9 L601.7 436.6 L602.1 438.2 L602.4 439.8 L602.8 441.4 L603.2 443.0 L603.5 444.4 L603.9 445.8 L604.3 447.2 L604.6 448.4 L605.0 449.6 L605.4 450.7 L605.7 451.6 L606.1 452.6 L606.5 453.5 L606.9 454.4 L607.2 455.3 L607.6 456.1 L608.0 456.9 L608.3 457.7 L608.7 458.4 L609.1 459.0 L609.4 459.6 L609.8 460.1 L610.2 460.5 L610.5 460.9 L610.9 461.3 L611.3 461.6 L611.6 461.8 L612.0 462.1 L612.4 462.3 L612.8 462.5 L613.1 462.7 L613.5 462.9 L613.9 463.1 L614.2 463.4 L614.6 463.7 L615.0 464.0 L615.3 464.3 L615.7 464.7 L616.1 465.2 L616.4 465.7 L616.8 466.2 L617.2 466.7 L617.5 467.3 L617.9 467.8 L618.3 468.3 L618.6 468.8 L619.0 469.3 L619.4 469.8 L619.8 470.2 L620.1 470.5 L620.5 470.8 L620.9 471.2 L621.2 471.5 L621.6 471.9 L622.0 472.2 L622.3 472.5 L622.7 472.8 L623.1 473.1 L623.4 473.4 L623.8 473.7 L624.2 473.9 L624.5 474.1 L624.9 474.3 L625.3 474.5 L625.7 474.6 L626.0 474.7 L626.4 474.7 L626.8 474.7 L627.1 474.6 L627.5 474.5 L627.9 474.3 L628.2 474.0 L628.6 473.8 L629.0 473.5 L629.3 473.2 L629.7 472.8 L630.1 472.5 L630.4 472.2 L630.8 471.8 L631.2 471.5 L631.6 471.3 L631.9 471.0 L632.3 470.8 L632.7 470.7 L633.0 470.6 L633.4 470.6 L633.8 470.7 L634.1 470.8 L634.5 470.9 L634.9 471.1 L635.2 471.2 L635.6 471.4 L636.0 471.6 L636.3 471.8 L636.7 471.9 L637.1 472.0 L637.5 472.0 L637.8 472.0 L638.2 471.9 L638.6 471.9 L638.9 471.8 L639.3 471.7 L639.7 471.6 L640.0 471.5 L640.4 471.4 L640.8 471.2 L641.1 471.1 L641.5 471.0 L641.9 470.9 L642.2 470.8 L642.6 470.6 L643.0 470.6 L643.4 470.4 L643.7 470.3 L644.1 470.2 L644.5 470.1 L644.8 470.0 L645.2 469.8 L645.6 469.7 L645.9 469.6 L646.3 469.5 L646.7 469.4 L647.0 469.4 L647.4 469.3 L647.8 469.3 L648.1 469.3 L648.5 469.5 L648.9 469.8 L649.3 470.3 L649.6 470.9 L650.0 471.6 L650.4 472.3 L650.7 473.1 L651.1 473.9 L651.5 474.7 L651.8 475.4 L652.2 476.0 L652.2 530.0Z M602.8 530.1 L602.3 525.1 L601.9 519.7 L601.4 514.3 L601.0 509.0 L600.5 504.0 L600.1 499.6 L599.6 495.8 L599.2 492.9 L598.7 490.5 L598.3 488.4 L597.9 486.4 L597.4 484.4 L597.0 482.2 L596.5 479.8 L596.1 477.2 L595.6 474.5 L595.2 471.8 L594.7 469.0 L594.3 466.3 L593.8 463.6 L593.4 460.7 L592.9 457.8 L592.5 455.0 L592.1 452.3 L591.6 450.0 L591.2 448.0 L590.7 446.2 L590.3 444.4 L589.8 442.8 L589.4 441.3 L588.9 439.9 L588.5 438.6 L588.0 437.3 L587.6 436.1 L587.1 435.0 L586.7 433.8 L586.3 432.6 L585.8 431.4 L585.4 430.3 L584.9 429.3 L584.5 428.5 L584.0 427.8 L583.6 427.5 L583.1 427.4 L582.7 427.5 L582.2 427.7 L581.8 427.9 L581.4 428.2 L580.9 428.5 L580.5 428.9 L580.0 429.6 L579.6 430.7 L579.1 432.1 L578.7 433.8 L578.2 435.7 L577.8 437.7 L577.3 439.8 L576.9 441.9 L576.4 444.1 L576.0 446.4 L575.6 449.1 L575.1 452.0 L574.7 455.0 L574.2 458.2 L573.8 461.4 L573.3 464.7 L572.9 467.9 L572.4 471.0 L572.0 473.9 L571.5 476.7 L571.1 479.5 L570.6 482.5 L570.2 485.9 L569.8 489.8 L569.3 494.9 L568.9 501.2 L568.4 508.2 L568.0 515.7 L567.5 523.1 L567.1 530.1Z" fill="#87c4cc" fill-opacity="0.59" fill-rule="evenodd" stroke="#7fc3cb" stroke-width="1.3" stroke-linejoin="round"/>
<path d="M497.4 486.9 L498.1 487.3 L498.9 487.6 L499.7 488.0 L500.5 488.4 L501.3 488.9 L502.0 489.4 L502.8 490.3 L503.6 491.6 L504.4 493.3 L505.2 495.1 L505.9 496.8 L506.7 498.2 L507.5 499.0 L508.3 499.3 L509.1 499.5 L509.8 499.6 L510.6 499.8 L511.4 499.9 L512.2 500.1 L513.0 500.4 L513.8 500.9 L514.5 502.0 L515.3 503.3 L516.1 504.7 L516.9 505.9 L517.7 506.8 L518.4 507.1 L519.2 506.9 L520.0 506.4 L520.8 505.7 L521.6 504.9 L522.3 504.1 L523.1 503.5 L523.9 503.1 L524.7 502.8 L525.5 502.5 L526.3 502.2 L527.0 502.0 L527.8 501.9 L528.6 501.8 L529.4 501.7 L530.2 501.8 L530.9 502.0 L531.7 502.3 L532.5 502.6 L533.3 502.9 L534.1 503.0 L534.8 503.1 L535.6 502.5 L536.4 501.3 L537.2 499.7 L538.0 497.9 L538.7 496.1 L539.5 494.5 L540.3 493.2 L541.1 492.1 L541.9 491.1 L542.7 490.0 L543.4 489.1 L544.2 488.2 L545.0 487.3 L545.8 486.5 L546.6 485.7 L547.3 484.9 L548.1 484.2 L548.9 483.7 L549.7 483.6 L550.5 484.2 L551.2 485.4 L552.0 486.8 L552.8 488.3 L553.6 489.6 L554.4 490.8 L555.2 492.0 L555.9 493.1 L556.7 494.1 L557.5 494.9 L558.3 495.4 L559.1 495.7 L559.8 496.0 L560.6 496.3 L561.4 496.5 L562.2 496.8 L563.0 497.1 L563.7 497.4 L564.5 497.8 L565.3 498.3 L566.1 499.1 L566.9 499.8 L567.6 500.6 L568.4 501.2 L569.2 501.6 L570.0 501.7 L570.8 501.6 L571.6 501.4 L572.3 501.1 L573.1 500.6 L573.9 500.1 L574.7 499.5 L575.5 498.7 L576.2 496.7 L577.0 493.9 L577.8 490.8 L578.6 488.2 L579.4 486.7 L580.1 485.8 L580.9 484.9 L581.7 484.2 L582.5 483.8 L583.3 483.6 L584.1 483.8 L584.8 484.2 L585.6 484.8 L586.4 485.5 L587.2 486.2 L588.0 486.7 L588.7 487.2 L589.5 487.7 L590.3 488.3 L591.1 489.2 L591.9 490.7 L592.6 494.2 L593.4 497.7 L594.2 499.0 L595.0 498.9 L595.8 498.6 L596.5 498.2 L597.3 497.7 L598.1 497.2 L598.9 496.7 L599.7 496.2 L600.5 495.8 L601.2 495.3 L602.0 494.8 L602.8 494.3 L603.6 493.9 L604.4 493.7 L605.1 493.7 L605.9 494.2 L606.7 495.3 L607.5 496.7 L608.3 498.2 L609.0 499.4 L609.8 500.2 L610.6 500.4 L611.4 500.2 L612.2 500.0 L613.0 499.6 L613.7 499.1 L614.5 498.6 L615.3 498.0 L616.1 497.4 L616.9 496.3 L617.6 494.9 L618.4 493.4 L619.2 491.9 L620.0 490.7 L620.8 489.8 L621.5 489.4 L622.3 489.1 L623.1 488.9 L623.9 488.7 L624.7 488.6 L625.4 488.4 L626.2 488.3 L627.0 488.1 L627.8 487.9 L628.6 487.7 L629.4 487.5 L630.1 487.3 L630.9 487.1 L631.7 487.0 L632.5 486.9 L633.3 486.9 L634.0 487.3 L634.8 488.6 L635.6 490.1 L636.4 491.5 L637.2 492.2 L637.9 492.1 L638.7 491.6 L639.5 490.8 L640.3 490.0 L641.1 489.2 L641.9 488.5 L642.6 488.2 L643.4 488.3 L644.2 488.8 L645.0 489.4 L645.8 490.1 L646.5 490.9 L647.3 491.6 L648.1 492.2 L648.9 492.7 L649.7 493.1 L650.4 493.5 L651.2 493.9 L652.0 494.2 L652.8 494.6 L653.6 495.0" fill="none" stroke="#6d7676" stroke-width="3.4" stroke-linejoin="round"/>
<path d="M497.4 503.0 L497.8 503.4 L498.1 503.9 L498.5 504.4 L498.9 504.8 L499.2 505.3 L499.6 505.8 L500.0 506.2 L500.3 506.7 L500.7 507.1 L501.1 507.5 L501.4 507.9 L501.8 508.2 L502.2 508.5 L502.5 508.7 L502.9 508.9 L503.3 509.1 L503.6 509.3 L504.0 509.4 L504.3 509.6 L504.7 509.7 L505.1 509.9 L505.4 510.0 L505.8 510.2 L506.2 510.3 L506.5 510.5 L506.9 510.6 L507.3 510.8 L507.6 511.0 L508.0 511.2 L508.4 511.5 L508.7 511.8 L509.1 512.1 L509.5 512.4 L509.8 512.7 L510.2 513.0 L510.6 513.3 L510.9 513.6 L511.3 513.9 L511.7 514.2 L512.0 514.4 L512.4 514.7 L512.8 514.9 L513.1 515.1 L513.5 515.2 L513.9 515.4 L514.2 515.5 L514.6 515.7 L515.0 515.8 L515.3 515.9 L515.7 516.0 L516.1 516.2 L516.4 516.3 L516.8 516.4 L517.1 516.5 L517.5 516.6 L517.9 516.7 L518.2 516.8 L518.6 516.9 L519.0 517.0 L519.3 517.1 L519.7 517.2 L520.1 517.3 L520.4 517.4 L520.8 517.5 L521.2 517.6 L521.5 517.6 L521.9 517.7 L522.3 517.8 L522.6 517.9 L523.0 518.0 L523.4 518.1 L523.7 518.2 L524.1 518.3 L524.5 518.4 L524.8 518.5 L525.2 518.6 L525.6 518.7 L525.9 518.8 L526.3 518.9 L526.7 519.1 L527.0 519.2 L527.4 519.3 L527.8 519.4 L528.1 519.6 L528.5 519.7 L528.9 519.8 L529.2 520.0 L529.6 520.1 L529.9 520.2 L530.3 520.4 L530.7 520.5 L531.0 520.7 L531.4 520.8 L531.8 521.0 L532.1 521.1 L532.5 521.3 L532.9 521.4 L533.2 521.5 L533.6 521.7 L534.0 521.8 L534.3 522.0 L534.7 522.1 L535.1 522.3 L535.4 522.4 L535.8 522.6 L536.2 522.7 L536.5 522.8 L536.9 523.0 L537.3 523.1 L537.6 523.2 L538.0 523.4 L538.4 523.5 L538.7 523.6 L539.1 523.7 L539.5 523.8 L539.8 523.9 L540.2 524.1 L540.6 524.2 L540.9 524.3 L541.3 524.4 L541.7 524.5 L542.0 524.6 L542.4 524.8 L542.7 524.9 L543.1 525.0 L543.5 525.1 L543.8 525.3 L544.2 525.4 L544.6 525.5 L544.9 525.6 L545.3 525.7 L545.7 525.8 L546.0 526.0 L546.4 526.1 L546.8 526.2 L547.1 526.3 L547.5 526.4 L547.9 526.5 L548.2 526.5 L548.6 526.6 L549.0 526.7 L549.3 526.8 L549.7 526.8 L550.1 526.9 L550.4 526.9 L550.8 526.9 L551.2 527.0 L551.5 527.0 L551.9 527.0 L552.3 527.0 L552.6 526.8 L553.0 526.6 L553.4 526.2 L553.7 525.7 L554.1 525.2 L554.5 524.6 L554.8 523.9 L555.2 523.2 L555.5 522.5 L555.9 521.7 L556.3 520.9 L556.6 520.1 L557.0 519.3 L557.4 518.5 L557.7 517.7 L558.1 516.9 L558.5 516.0 L558.8 515.1 L559.2 514.1 L559.6 513.0 L559.9 511.9 L560.3 510.7 L560.7 509.3 L561.0 507.9 L561.4 506.2 L561.8 504.5 L562.1 502.5 L562.5 500.5 L562.9 498.4 L563.2 496.2 L563.6 493.9 L564.0 491.6 L564.3 489.3 L564.7 487.0 L565.1 484.6 L565.4 482.3 L565.8 479.9 L566.2 477.5 L566.5 475.0 L566.9 472.4 L567.3 469.7 L567.6 467.0 L568.0 464.2 L568.3 461.2 L568.7 458.1 L569.1 454.9 L569.4 451.4 L569.8 447.9 L570.2 444.3 L570.5 440.6 L570.9 436.9 L571.3 433.2 L571.6 429.4 L572.0 425.4 L572.4 421.5 L572.7 417.6 L573.1 413.9 L573.5 410.4 L573.8 406.8 L574.2 403.4 L574.6 400.3 L574.9 397.8 L575.3 395.8 L575.7 394.1 L576.0 392.5 L576.4 391.1 L576.8 389.8 L577.1 388.6 L577.5 387.3 L577.9 386.2 L578.2 385.0 L578.6 384.0 L579.0 383.0 L579.3 382.1 L579.7 381.3 L580.1 380.5 L580.4 379.6 L580.8 378.8 L581.1 378.2 L581.5 377.8 L581.9 377.8 L582.2 378.2 L582.6 378.8 L583.0 379.6 L583.3 380.4 L583.7 381.3 L584.1 382.2 L584.4 383.2 L584.8 384.3 L585.2 385.5 L585.5 386.7 L585.9 388.0 L586.3 389.2 L586.6 390.5 L587.0 391.9 L587.4 393.3 L587.7 394.8 L588.1 396.3 L588.5 397.8 L588.8 399.5 L589.2 401.2 L589.6 403.0 L589.9 404.9 L590.3 406.7 L590.7 408.6 L591.0 410.3 L591.4 412.1 L591.8 414.1 L592.1 416.5 L592.5 419.4 L592.9 422.8 L593.2 426.5 L593.6 430.4 L593.9 434.4 L594.3 438.3 L594.7 442.0 L595.0 445.4 L595.4 448.4 L595.8 450.9 L596.1 452.9 L596.5 454.8 L596.9 456.6 L597.2 458.3 L597.6 459.9 L598.0 461.4 L598.3 462.8 L598.7 464.2 L599.1 465.5 L599.4 466.7 L599.8 467.9 L600.2 469.1 L600.5 470.3 L600.9 471.4 L601.3 472.6 L601.6 473.7 L602.0 474.8 L602.4 475.9 L602.7 476.9 L603.1 478.0 L603.5 479.0 L603.8 480.0 L604.2 480.9 L604.6 481.9 L604.9 482.8 L605.3 483.7 L605.7 484.5 L606.0 485.4 L606.4 486.2 L606.7 486.9 L607.1 487.7 L607.5 488.4 L607.8 489.1 L608.2 489.7 L608.6 490.3 L608.9 490.9 L609.3 491.4 L609.7 492.0 L610.0 492.5 L610.4 493.0 L610.8 493.5 L611.1 494.0 L611.5 494.4 L611.9 494.9 L612.2 495.3 L612.6 495.8 L613.0 496.2 L613.3 496.6 L613.7 497.0 L614.1 497.4 L614.4 497.8 L614.8 498.2 L615.2 498.5 L615.5 498.9 L615.9 499.3 L616.3 499.7 L616.6 500.0 L617.0 500.4 L617.4 500.8 L617.7 501.2 L618.1 501.5 L618.5 501.9 L618.8 502.3 L619.2 502.7 L619.5 503.1 L619.9 503.5 L620.3 503.9 L620.6 504.4 L621.0 504.9 L621.4 505.5 L621.7 506.0 L622.1 506.5 L622.5 507.0 L622.8 507.4 L623.2 507.7 L623.6 507.9 L623.9 508.0 L624.3 508.0 L624.7 508.0 L625.0 507.9 L625.4 507.8 L625.8 507.8 L626.1 507.6 L626.5 507.5 L626.9 507.4 L627.2 507.3 L627.6 507.2 L628.0 507.0 L628.3 506.9 L628.7 506.7 L629.1 506.6 L629.4 506.5 L629.8 506.4 L630.2 506.3 L630.5 506.2 L630.9 506.1 L631.3 506.0 L631.6 506.0 L632.0 506.0 L632.3 506.0 L632.7 506.0 L633.1 506.1 L633.4 506.2 L633.8 506.3 L634.2 506.4 L634.5 506.5 L634.9 506.6 L635.3 506.7 L635.6 506.8 L636.0 506.8 L636.4 506.9 L636.7 507.0 L637.1 507.0 L637.5 507.0 L637.8 506.9 L638.2 506.8 L638.6 506.6 L638.9 506.4 L639.3 506.1 L639.7 505.7 L640.0 505.4 L640.4 505.0 L640.8 504.6 L641.1 504.3 L641.5 503.9 L641.9 503.6 L642.2 503.3 L642.6 503.1 L643.0 502.9 L643.3 502.8 L643.7 502.6 L644.1 502.4 L644.4 502.3 L644.8 502.1 L645.1 502.0 L645.5 501.9 L645.9 501.8 L646.2 501.7 L646.6 501.7 L647.0 501.7 L647.3 502.0 L647.7 502.4 L648.1 503.0 L648.4 503.7 L648.8 504.6 L649.2 505.5 L649.5 506.5 L649.9 507.4 L650.3 508.3 L650.6 509.2 L651.0 510.0" fill="none" stroke="#2fb0c2" stroke-width="3" stroke-linejoin="round"/>
<path class="ax" d="M491 344 V512"/>
<path class="ax" d="M486.8 391.6 H491"/>
<text class="tk" text-anchor="end" x="483.5" y="396.2">2</text>
<path class="ax" d="M486.8 443.8 H491"/>
<text class="tk" text-anchor="end" x="483.5" y="448.4">1</text>
<path class="ax" d="M486.8 496.2 H491"/>
<text class="tk" text-anchor="end" x="483.5" y="500.8">0</text>
<path d="M93.6 115.3 L100.9 116.7 L93.5 116.7 Z M93.2 117.6 L98.3 121.2 L92.5 118.8 Z M91.9 119.6 L96.1 125.8 L90.9 120.4 Z M90.0 120.9 L91.1 127.1 L88.7 121.3 Z M87.7 121.4 L86.3 128.7 L86.3 121.3 Z M85.4 121.0 L81.8 126.1 L84.2 120.3 Z M83.4 119.7 L77.2 123.9 L82.6 118.7 Z M82.1 117.8 L75.9 118.9 L81.7 116.5 Z M81.6 115.5 L74.3 114.1 L81.7 114.1 Z M82.0 113.2 L76.9 109.6 L82.7 112.0 Z M83.3 111.2 L79.1 105.0 L84.3 110.4 Z M85.2 109.9 L84.1 103.7 L86.5 109.5 Z M87.5 109.4 L88.9 102.1 L88.9 109.5 Z M89.8 109.8 L93.4 104.7 L91.0 110.5 Z M91.8 111.1 L98.0 106.9 L92.6 112.1 Z M93.1 113.0 L99.3 111.9 L93.5 114.3 Z" fill="#e2402c" stroke="#e2402c" stroke-width="0.5"/>
<circle cx="87.6" cy="115.4" r="6.6" fill="#e0281e"/>
<text x="60.8" y="141.6" style="font-size:12.6px;fill:#222;stroke:#222">1000 nm</text>
<g fill="none" stroke="#353334" stroke-width="1.3" stroke-linejoin="round">
<path d="M134.4 111.5 H159.7 V150.4 Q159.7 153.4 157.4 155.8 L147.4 167 L136.8 155.8 Q134.4 153.4 134.4 150.4 Z" fill="#fff"/>
<path d="M134.4 145 Q147 148.8 159.7 145" stroke-width="1.1"/>
<path d="M134.6 150.6 Q147 154.8 159.5 150.6" stroke-width="1.1"/>
</g>
<path d="M140.4 159.6 H154.3 L147.4 167.3 Z" fill="#403839" stroke="#403839" stroke-width="0.5" stroke-linejoin="round"/>
<path d="M87.6 115.4 H147.4 V160" stroke="#c23a2c" stroke-width="1.1" fill="none"/>
<text x="138.4" y="127.3" style="font-size:13px;fill:#222;stroke:#222">16x</text>
<text x="138.1" y="142.4" style="font-size:13px;fill:#222;stroke:#222">0.8</text>
<path d="M40.4 169.3 L41.0 168.3 L41.5 167.5 L42.1 166.6 L42.7 165.8 L43.3 165.1 L43.9 164.4 L44.5 163.7 L45.2 163.1 L45.9 162.5 L46.6 161.9 L47.2 161.4 L47.9 161.0 L48.7 160.6 L49.4 160.2 L50.1 159.8 L50.8 159.6 L51.5 159.3 L52.2 159.1 L53.0 159.0 L53.7 158.8 L54.4 158.8 L55.1 158.7 L55.8 158.8 L56.5 158.8 L57.3 158.9 L58.0 159.1 L58.8 159.2 L59.5 159.4 L60.2 159.7 L60.8 159.9 L61.5 160.2 L62.1 160.6 L62.7 160.9 L63.3 161.3 L63.9 161.7 L64.4 162.2 L65.0 162.6 L65.5 163.1 L66.1 163.7 L66.6 164.2 L67.1 164.8 L67.6 165.4 L68.1 166.0 L68.6 166.7 L69.1 167.4 L69.5 168.1 L70.0 168.8 L70.5 169.6 L71.0 170.4 L71.6 171.3 L72.1 172.1 L72.7 173.0 L73.2 173.8 L73.8 174.6 L74.4 175.4 L74.9 176.2 L75.5 177.0 L76.2 177.8 L76.8 178.5 L77.4 179.3 L78.1 180.0 L78.8 180.7 L79.6 181.4 L80.3 182.0 L81.1 182.7 L82.0 183.3 L82.8 183.9 L83.8 184.4 L84.7 185.0 L85.7 185.5 L86.7 185.9 L87.7 186.4 L89.3 182.4 L88.3 182.1 L87.4 181.7 L86.6 181.3 L85.8 180.9 L85.0 180.4 L84.3 180.0 L83.6 179.5 L82.9 178.9 L82.2 178.4 L81.5 177.8 L80.9 177.2 L80.3 176.6 L79.7 176.0 L79.1 175.3 L78.5 174.6 L77.9 173.9 L77.4 173.2 L76.8 172.4 L76.3 171.7 L75.7 170.9 L75.2 170.1 L74.6 169.3 L74.1 168.5 L73.5 167.6 L73.0 166.9 L72.4 166.1 L71.9 165.3 L71.3 164.6 L70.8 163.9 L70.2 163.2 L69.6 162.6 L69.0 161.9 L68.4 161.3 L67.7 160.7 L67.1 160.2 L66.4 159.6 L65.7 159.1 L65.0 158.7 L64.3 158.2 L63.5 157.8 L62.8 157.5 L62.0 157.1 L61.2 156.8 L60.3 156.6 L59.4 156.4 L58.6 156.2 L57.7 156.1 L56.7 156.0 L55.9 155.9 L55.0 156.0 L54.1 156.0 L53.3 156.1 L52.4 156.3 L51.5 156.5 L50.7 156.8 L49.8 157.2 L49.0 157.5 L48.2 157.9 L47.4 158.4 L46.6 158.9 L45.8 159.5 L45.1 160.1 L44.3 160.7 L43.6 161.4 L42.9 162.1 L42.2 162.9 L41.6 163.7 L41.0 164.6 L40.4 165.5 L39.8 166.4 L39.3 167.4 L38.8 168.3Z" fill="#474445" stroke="#474445" stroke-width="0.4" stroke-linejoin="round"/>
<path d="M86.8 183.6 C89 180.6 91 179 93.5 177.2 C96 174 98.6 172.4 101 171.2 C106 168.6 111.6 167.4 117 167.4 C123 167.4 129 169 135.6 169.6 C135 166.6 137 164.2 139.8 164.2 C142.6 164.2 144.4 166.4 144 169 C145.4 168 147.6 167.6 148.8 168.6 C149.8 169.4 150 170.6 149.6 171.4 C152.6 173 155.6 175.6 157.6 177.8 C159.4 179.4 161 180.6 161 181.8 C161 183.4 159.6 184.6 157.6 185.4 C154.4 186.8 151 187.6 147.6 188.4 C145.6 189.2 144.2 190.6 143.6 192.4 C143 194.2 143.4 195.6 144.8 196.6 C146 197.4 147.2 197.8 147.4 198.6 C147.6 199.4 146.8 199.8 145.6 199.6 C143.4 199.4 141.4 198.4 140.2 196.6 C139 194.8 138.6 193.6 137.4 193 C133.4 193.4 129 193 124.6 193.4 C122.4 194 121 195.4 120.6 197 C120.4 198 121.4 198.8 122 199.4 C122.4 200.2 121.4 200.6 120.2 200.6 C118.6 200.6 117.4 199.8 117 198.4 C116.6 197 116.4 195.8 115 195.4 C112.6 196 110.2 196.4 108 197 C109.8 197.4 111.4 198 111.2 198.8 C111 199.6 109.6 199.4 108 199.2 C104.6 198.8 100.4 198.6 97.6 197.6 C94.4 196.4 91.6 194 89.8 190.8 C88.6 188.6 87.6 186.2 86.8 183.6 Z" fill="#474445"/>
<rect x="28.9" y="201.3" width="153.3" height="39.1" rx="19.55" fill="#474445"/>
<path d="M53.87 204.30 L59.00 207.80 L62.10 205.00 Q64.13 203.53 66.16 205.00 L69.26 207.80 L72.36 205.00 Q74.39 203.53 76.42 205.00 L79.52 207.80 L82.62 205.00 Q84.65 203.53 86.68 205.00 L89.78 207.80 L92.88 205.00 Q94.91 203.53 96.94 205.00 L100.04 207.80 L103.14 205.00 Q105.17 203.53 107.20 205.00 L110.30 207.80 L113.40 205.00 Q115.43 203.53 117.46 205.00 L120.56 207.80 L123.66 205.00 Q125.69 203.53 127.72 205.00 L130.82 207.80 L133.92 205.00 Q135.95 203.53 137.98 205.00 L141.08 207.80 L144.18 205.00 Q146.21 203.53 148.24 205.00 L151.34 207.80 L156.47 204.30 L156.47 237.90 L151.34 234.30 L148.24 237.20 Q146.21 238.67 144.18 237.20 L141.08 234.30 L137.98 237.20 Q135.95 238.67 133.92 237.20 L130.82 234.30 L127.72 237.20 Q125.69 238.67 123.66 237.20 L120.56 234.30 L117.46 237.20 Q115.43 238.67 113.40 237.20 L110.30 234.30 L107.20 237.20 Q105.17 238.67 103.14 237.20 L100.04 234.30 L96.94 237.20 Q94.91 238.67 92.88 237.20 L89.78 234.30 L86.68 237.20 Q84.65 238.67 82.62 237.20 L79.52 234.30 L76.42 237.20 Q74.39 238.67 72.36 237.20 L69.26 234.30 L66.16 237.20 Q64.13 238.67 62.10 237.20 L59.00 234.30 L53.87 237.90 Z" fill="#fff"/>
<path d="M60.5 222.7 L62.0 223.5 L63.5 224.5 L63.7 225.5 L62.5 228.5 L61.6 229.0 L59.8 228.7 L58.2 228.1 L55.6 230.7 L56.2 232.3 L56.5 234.1 L56.0 235.0 L53.0 236.2 L52.0 236.0 L51.0 234.5 L50.2 233.0 L46.6 233.0 L45.8 234.5 L44.8 236.0 L43.8 236.2 L40.8 235.0 L40.3 234.1 L40.6 232.3 L41.2 230.7 L38.6 228.1 L37.0 228.7 L35.2 229.0 L34.3 228.5 L33.1 225.5 L33.3 224.5 L34.8 223.5 L36.3 222.7 L36.3 219.1 L34.8 218.3 L33.3 217.3 L33.1 216.3 L34.3 213.3 L35.2 212.8 L37.0 213.1 L38.6 213.7 L41.2 211.1 L40.6 209.5 L40.3 207.7 L40.8 206.8 L43.8 205.6 L44.8 205.8 L45.8 207.3 L46.6 208.8 L50.2 208.8 L51.0 207.3 L52.0 205.8 L53.0 205.6 L56.0 206.8 L56.5 207.7 L56.2 209.5 L55.6 211.1 L58.2 213.7 L59.8 213.1 L61.6 212.8 L62.5 213.3 L63.7 216.3 L63.5 217.3 L62.0 218.3 L60.5 219.1Z" fill="#474445" stroke="#fff" stroke-width="1.5" stroke-linejoin="round"/>
<circle cx="48.4" cy="220.9" r="5.8" fill="#474445" stroke="#fff" stroke-width="1.6"/>
<circle cx="48.4" cy="220.9" r="3.6" fill="#3d3a3b"/>
<path d="M174.8 222.6 L176.3 223.4 L177.8 224.4 L178.0 225.4 L176.8 228.4 L175.9 228.9 L174.1 228.6 L172.5 228.0 L169.9 230.6 L170.5 232.2 L170.8 234.0 L170.3 234.9 L167.3 236.1 L166.3 235.9 L165.3 234.4 L164.5 232.9 L160.9 232.9 L160.1 234.4 L159.1 235.9 L158.1 236.1 L155.1 234.9 L154.6 234.0 L154.9 232.2 L155.5 230.6 L152.9 228.0 L151.3 228.6 L149.5 228.9 L148.6 228.4 L147.4 225.4 L147.6 224.4 L149.1 223.4 L150.6 222.6 L150.6 219.0 L149.1 218.2 L147.6 217.2 L147.4 216.2 L148.6 213.2 L149.5 212.7 L151.3 213.0 L152.9 213.6 L155.5 211.0 L154.9 209.4 L154.6 207.6 L155.1 206.7 L158.1 205.5 L159.1 205.7 L160.1 207.2 L160.9 208.7 L164.5 208.7 L165.3 207.2 L166.3 205.7 L167.3 205.5 L170.3 206.7 L170.8 207.6 L170.5 209.4 L169.9 211.0 L172.5 213.6 L174.1 213.0 L175.9 212.7 L176.8 213.2 L178.0 216.2 L177.8 217.2 L176.3 218.2 L174.8 219.0Z" fill="#474445" stroke="#fff" stroke-width="1.5" stroke-linejoin="round"/>
<circle cx="162.7" cy="220.8" r="5.8" fill="#474445" stroke="#fff" stroke-width="1.6"/>
<circle cx="162.7" cy="220.8" r="3.6" fill="#3d3a3b"/>
<g>
<path d="M41.8 180.9 Q43.6 181.6 45.2 183.2 Q48.7 182.2 52.2 183.2 Q53.8 181.6 55.6 180.9 Q56.2 184 55.6 186.6 Q57.2 190.6 56.6 194.6 Q55.8 199.2 52.6 201.2 L44.8 201.2 Q41.6 199.2 40.8 194.6 Q40.2 190.6 41.8 186.6 Q41.2 184 41.8 180.9 Z" fill="#f4b123"/>
<circle cx="45.8" cy="187.3" r="2.6" fill="#f9e6a0"/><circle cx="51.6" cy="187.3" r="2.6" fill="#f9e6a0"/>
<circle cx="46" cy="187.2" r="1.1" fill="#9a6420"/><circle cx="51.4" cy="187.2" r="1.1" fill="#9a6420"/>
<path d="M47.9 189.4 L49.5 189.4 L48.7 191.8 Z" fill="#f9e6a0"/>
</g>
<g fill="#d8447c">
<circle cx="175.1" cy="187.6" r="2.1" />
<circle cx="174.0" cy="190.2" r="2.1" />
<circle cx="171.4" cy="191.3" r="2.1" />
<circle cx="168.8" cy="190.2" r="2.1" />
<circle cx="167.7" cy="187.6" r="2.1" />
<circle cx="168.8" cy="185.0" r="2.1" />
<circle cx="171.4" cy="183.9" r="2.1" />
<circle cx="174.0" cy="185.0" r="2.1" />
<circle cx="171.4" cy="187.6" r="4.2"/>
<circle cx="171.4" cy="187.6" r="2.3" fill="#f3b6cc"/>
<circle cx="171.4" cy="187.6" r="1.3" fill="#fff"/>
<path d="M170.2 192.4 Q169.4 197 167.2 201.6" stroke="#d8447c" stroke-width="1.4" fill="none"/>
<path d="M168.8 197 Q163.6 197.6 161.2 191.2 Q167.6 190.6 168.8 197 Z"/>
<path d="M168.4 198.6 Q171.6 201.4 176 197.4 Q171.6 194.8 168.4 198.6 Z"/>
</g>
<g>
<rect x="-4.8" y="-4.6" width="9.6" height="9.6" rx="3.2" transform="translate(47.3 244.4) rotate(10)" fill="#e02224"/>
<path d="M36.2 249 Q44 247.6 52 251 C53.6 255.4 51.8 259 48.4 260 L47.6 259.2 C45.8 261.8 42.4 262.4 40 261.2 L39.8 260 C36 258 34.8 253.6 36.2 249 Z" fill="#d81f21"/>
<circle cx="41.8" cy="250.6" r="1.8" fill="#fdeee0"/><circle cx="47.1" cy="252.3" r="1.9" fill="#fdeee0"/><circle cx="38.7" cy="254" r="1.6" fill="#fdeee0"/><circle cx="44.2" cy="257.4" r="1.9" fill="#fdeee0"/>
</g>
<g fill="#0f7a3e">
<rect x="146.6" y="240" width="2.8" height="7" />
<circle cx="148.0" cy="253.6" r="6.6"/>
<circle cx="143.0" cy="250.4" r="4.6"/>
<circle cx="152.6" cy="250.4" r="4.6"/>
<circle cx="142.2" cy="255.0" r="4.2"/>
<circle cx="153.6" cy="255.0" r="4.0"/>
<circle cx="145.4" cy="258.0" r="4.0"/>
<circle cx="150.6" cy="257.8" r="4.0"/>
<circle cx="148.0" cy="248.6" r="3.2"/>
</g>
<path d="M29.5 339.6 L30.1 339.6 L30.7 339.6 L31.3 339.6 L31.9 339.6 L32.6 339.6 L33.2 339.6 L33.8 339.6 L34.4 339.6 L35.0 339.6 L35.6 339.6 L36.2 339.6 L36.9 339.6 L37.5 339.6 L38.1 339.6 L38.7 339.6 L39.3 339.6 L39.9 339.6 L40.5 339.6 L41.1 339.6 L41.8 339.6 L42.4 339.6 L43.0 339.6 L43.6 339.6 L44.2 339.6 L44.8 339.6 L45.4 339.5 L46.0 339.5 L46.6 339.5 L47.3 339.5 L47.9 339.4 L48.5 339.4 L49.1 339.4 L49.7 339.3 L50.3 339.2 L50.9 339.1 L51.5 339.0 L52.2 338.9 L52.8 338.7 L53.4 338.6 L54.0 338.4 L54.6 338.1 L55.2 337.8 L55.8 337.5 L56.5 337.1 L57.1 336.7 L57.7 336.2 L58.3 335.7 L58.9 335.1 L59.5 334.5 L60.1 333.8 L60.7 333.0 L61.4 332.2 L62.0 331.3 L62.6 330.3 L63.2 329.3 L63.8 328.3 L64.4 327.2 L65.0 326.1 L65.6 324.9 L66.2 323.8 L66.9 322.7 L67.5 321.5 L68.1 320.4 L68.7 319.4 L69.3 318.4 L69.9 317.5 L70.5 316.6 L71.2 315.9 L71.8 315.3 L72.4 314.8 L73.0 314.4 L73.6 314.1 L74.2 314.0 L74.8 314.0 L75.4 314.2 L76.0 314.5 L76.7 314.9 L77.3 315.5 L77.9 316.2 L78.5 316.9 L79.1 317.8 L79.7 318.8 L80.3 319.8 L81.0 320.8 L81.6 322.0 L82.2 323.1 L82.8 324.2 L83.4 325.4 L84.0 326.5 L84.6 327.6 L85.2 328.7 L85.8 329.7 L86.5 330.7 L87.1 331.6 L87.7 332.5 L88.3 333.3 L88.9 334.0 L89.5 334.7 L90.1 335.4 L90.8 335.9 L91.4 336.4 L92.0 336.9 L92.6 337.3 L93.2 337.6 L93.8 337.9 L94.4 338.2 L95.0 338.4 L95.7 338.6 L96.3 338.8 L96.9 338.9 L97.5 339.1 L98.1 339.2 L98.7 339.2 L99.3 339.3 L99.9 339.4 L100.5 339.4 L101.2 339.5 L101.8 339.5 L102.4 339.5 L103.0 339.5 L103.6 339.5 L104.2 339.6 L104.8 339.6 L105.5 339.6 L106.1 339.6 L106.7 339.6 L107.3 339.6 L107.9 339.6 L108.5 339.6 L109.1 339.6 L109.7 339.6 L110.3 339.6 L111.0 339.6 L111.6 339.6 L112.2 339.6 L112.8 339.6 L113.4 339.6 L114.0 339.6 L114.6 339.6 L115.2 339.6 L115.9 339.6 L116.5 339.6 L117.1 339.6 L117.7 339.6 L118.3 339.6 L118.9 339.6 L119.5 339.6 L120.2 339.6 L120.8 339.6 L121.4 339.6 L122.0 339.6 L122.6 339.6 L123.2 339.6 L123.8 339.6 L124.4 339.6 L125.0 339.6 L125.7 339.6 L126.3 339.6 L126.9 339.6 L127.5 339.6 L128.1 339.6 L128.7 339.6 L129.3 339.6 L129.9 339.6 L130.6 339.6 L131.2 339.6 L131.8 339.6 L132.4 339.6 L133.0 339.6 L133.6 339.6 L134.2 339.6 L134.8 339.6 L135.5 339.6 L136.1 339.6 L136.7 339.6 L137.3 339.6 L137.9 339.6 L138.5 339.6 L139.1 339.6 L139.8 339.6 L140.4 339.6 L141.0 339.6 L141.6 339.6 L142.2 339.6 L142.8 339.6 L143.4 339.6 L144.0 339.6 L144.7 339.6 L145.3 339.6 L145.9 339.6 L146.5 339.6 L147.1 339.6 L147.7 339.6 L148.3 339.6 L148.9 339.6 L149.6 339.6 L150.2 339.6 L150.8 339.6 L151.4 339.6 L152.0 339.6 L152.6 339.6 L153.2 339.6 L153.8 339.6 L154.4 339.6 L155.1 339.6 L155.7 339.6 L156.3 339.6 L156.9 339.6 L157.5 339.6 L158.1 339.6 L158.7 339.6 L159.3 339.6 L160.0 339.6 L160.6 339.6 L161.2 339.6 L161.8 339.6 L162.4 339.6 L163.0 339.6 L163.6 339.6 L164.2 339.6 L164.9 339.6 L165.5 339.6 L166.1 339.6 L166.7 339.6 L167.3 339.6 L167.9 339.6 L168.5 339.6 L169.2 339.6 L169.8 339.6 L170.4 339.6 L171.0 339.6 L171.6 339.6 L172.2 339.6 L172.8 339.6 L173.4 339.6 L174.1 339.6 L174.7 339.6 L175.3 339.6 L175.9 339.6 L176.5 339.6" fill="none" stroke="#a8482b" stroke-width="1.6" stroke-dasharray="7 2.6"/>
<path d="M29.5 375.8 L30.1 375.8 L30.7 375.8 L31.3 375.8 L31.9 375.8 L32.6 375.8 L33.2 375.8 L33.8 375.8 L34.4 375.8 L35.0 375.8 L35.6 375.8 L36.2 375.8 L36.9 375.8 L37.5 375.8 L38.1 375.8 L38.7 375.8 L39.3 375.8 L39.9 375.8 L40.5 375.8 L41.1 375.8 L41.8 375.8 L42.4 375.8 L43.0 375.8 L43.6 375.8 L44.2 375.8 L44.8 375.8 L45.4 375.8 L46.0 375.8 L46.6 375.8 L47.3 375.8 L47.9 375.8 L48.5 375.8 L49.1 375.8 L49.7 375.8 L50.3 375.8 L50.9 375.8 L51.5 375.8 L52.2 375.8 L52.8 375.8 L53.4 375.8 L54.0 375.8 L54.6 375.8 L55.2 375.8 L55.8 375.8 L56.5 375.8 L57.1 375.8 L57.7 375.8 L58.3 375.8 L58.9 375.8 L59.5 375.8 L60.1 375.8 L60.7 375.8 L61.4 375.8 L62.0 375.8 L62.6 375.8 L63.2 375.8 L63.8 375.8 L64.4 375.8 L65.0 375.8 L65.6 375.8 L66.2 375.8 L66.9 375.8 L67.5 375.8 L68.1 375.8 L68.7 375.8 L69.3 375.8 L69.9 375.8 L70.5 375.8 L71.2 375.8 L71.8 375.8 L72.4 375.8 L73.0 375.8 L73.6 375.8 L74.2 375.7 L74.8 375.7 L75.4 375.7 L76.0 375.7 L76.7 375.7 L77.3 375.6 L77.9 375.6 L78.5 375.6 L79.1 375.5 L79.7 375.4 L80.3 375.4 L81.0 375.3 L81.6 375.1 L82.2 375.0 L82.8 374.9 L83.4 374.7 L84.0 374.5 L84.6 374.2 L85.2 373.9 L85.8 373.6 L86.5 373.3 L87.1 372.9 L87.7 372.4 L88.3 371.9 L88.9 371.3 L89.5 370.7 L90.1 370.0 L90.8 369.3 L91.4 368.5 L92.0 367.6 L92.6 366.6 L93.2 365.6 L93.8 364.6 L94.4 363.4 L95.0 362.3 L95.7 361.0 L96.3 359.8 L96.9 358.5 L97.5 357.2 L98.1 355.8 L98.7 354.5 L99.3 353.2 L99.9 351.9 L100.5 350.7 L101.2 349.5 L101.8 348.3 L102.4 347.3 L103.0 346.3 L103.6 345.4 L104.2 344.7 L104.8 344.1 L105.5 343.6 L106.1 343.2 L106.7 343.0 L107.3 342.9 L107.9 343.0 L108.5 343.2 L109.1 343.5 L109.7 344.0 L110.3 344.7 L111.0 345.4 L111.6 346.3 L112.2 347.2 L112.8 348.3 L113.4 349.4 L114.0 350.6 L114.6 351.9 L115.2 353.2 L115.9 354.5 L116.5 355.8 L117.1 357.1 L117.7 358.4 L118.3 359.7 L118.9 361.0 L119.5 362.2 L120.2 363.4 L120.8 364.5 L121.4 365.6 L122.0 366.6 L122.6 367.5 L123.2 368.4 L123.8 369.2 L124.4 370.0 L125.0 370.7 L125.7 371.3 L126.3 371.9 L126.9 372.4 L127.5 372.8 L128.1 373.3 L128.7 373.6 L129.3 373.9 L129.9 374.2 L130.6 374.5 L131.2 374.7 L131.8 374.8 L132.4 375.0 L133.0 375.1 L133.6 375.3 L134.2 375.3 L134.8 375.4 L135.5 375.5 L136.1 375.6 L136.7 375.6 L137.3 375.6 L137.9 375.7 L138.5 375.7 L139.1 375.7 L139.8 375.7 L140.4 375.7 L141.0 375.8 L141.6 375.8 L142.2 375.8 L142.8 375.8 L143.4 375.8 L144.0 375.8 L144.7 375.8 L145.3 375.8 L145.9 375.8 L146.5 375.8 L147.1 375.8 L147.7 375.8 L148.3 375.8 L148.9 375.8 L149.6 375.8 L150.2 375.8 L150.8 375.8 L151.4 375.8 L152.0 375.8 L152.6 375.8 L153.2 375.8 L153.8 375.8 L154.4 375.8 L155.1 375.8 L155.7 375.8 L156.3 375.8 L156.9 375.8 L157.5 375.8 L158.1 375.8 L158.7 375.8 L159.3 375.8 L160.0 375.8 L160.6 375.8 L161.2 375.8 L161.8 375.8 L162.4 375.8 L163.0 375.8 L163.6 375.8 L164.2 375.8 L164.9 375.8 L165.5 375.8 L166.1 375.8 L166.7 375.8 L167.3 375.8 L167.9 375.8 L168.5 375.8 L169.2 375.8 L169.8 375.8 L170.4 375.8 L171.0 375.8 L171.6 375.8 L172.2 375.8 L172.8 375.8 L173.4 375.8 L174.1 375.8 L174.7 375.8 L175.3 375.8 L175.9 375.8 L176.5 375.8" fill="none" stroke="#d97f3f" stroke-width="1.6" stroke-dasharray="3.8 2.8"/>
<path d="M29.5 399.0 L30.1 399.0 L30.7 399.0 L31.3 399.0 L31.9 399.0 L32.6 399.0 L33.2 399.0 L33.8 399.0 L34.4 399.0 L35.0 399.0 L35.6 399.0 L36.2 399.0 L36.9 399.0 L37.5 399.0 L38.1 399.0 L38.7 399.0 L39.3 399.0 L39.9 399.0 L40.5 399.0 L41.1 399.0 L41.8 399.0 L42.4 399.0 L43.0 399.0 L43.6 399.0 L44.2 399.0 L44.8 399.0 L45.4 399.0 L46.0 399.0 L46.6 399.0 L47.3 399.0 L47.9 399.0 L48.5 399.0 L49.1 399.0 L49.7 399.0 L50.3 399.0 L50.9 399.0 L51.5 399.0 L52.2 399.0 L52.8 399.0 L53.4 399.0 L54.0 399.0 L54.6 399.0 L55.2 399.0 L55.8 399.0 L56.5 399.0 L57.1 399.0 L57.7 399.0 L58.3 399.0 L58.9 399.0 L59.5 399.0 L60.1 399.0 L60.7 399.0 L61.4 399.0 L62.0 399.0 L62.6 399.0 L63.2 399.0 L63.8 399.0 L64.4 399.0 L65.0 399.0 L65.6 399.0 L66.2 399.0 L66.9 399.0 L67.5 399.0 L68.1 399.0 L68.7 399.0 L69.3 399.0 L69.9 399.0 L70.5 399.0 L71.2 399.0 L71.8 399.0 L72.4 399.0 L73.0 399.0 L73.6 399.0 L74.2 399.0 L74.8 399.0 L75.4 399.0 L76.0 399.0 L76.7 399.0 L77.3 399.0 L77.9 399.0 L78.5 399.0 L79.1 399.0 L79.7 399.0 L80.3 399.0 L81.0 399.0 L81.6 399.0 L82.2 399.0 L82.8 399.0 L83.4 399.0 L84.0 399.0 L84.6 399.0 L85.2 399.0 L85.8 399.0 L86.5 399.0 L87.1 399.0 L87.7 399.0 L88.3 399.0 L88.9 399.0 L89.5 399.0 L90.1 399.0 L90.8 399.0 L91.4 399.0 L92.0 399.0 L92.6 399.0 L93.2 399.0 L93.8 399.0 L94.4 399.0 L95.0 399.0 L95.7 399.0 L96.3 399.0 L96.9 399.0 L97.5 399.0 L98.1 399.0 L98.7 399.0 L99.3 399.0 L99.9 399.0 L100.5 399.0 L101.2 399.0 L101.8 399.0 L102.4 399.0 L103.0 399.0 L103.6 399.0 L104.2 399.0 L104.8 399.0 L105.5 399.0 L106.1 399.0 L106.7 399.0 L107.3 399.0 L107.9 399.0 L108.5 399.0 L109.1 399.0 L109.7 399.0 L110.3 399.0 L111.0 399.0 L111.6 399.0 L112.2 398.9 L112.8 398.9 L113.4 398.9 L114.0 398.9 L114.6 398.9 L115.2 398.8 L115.9 398.8 L116.5 398.7 L117.1 398.7 L117.7 398.6 L118.3 398.5 L118.9 398.4 L119.5 398.3 L120.2 398.1 L120.8 398.0 L121.4 397.8 L122.0 397.6 L122.6 397.3 L123.2 397.0 L123.8 396.7 L124.4 396.3 L125.0 395.9 L125.7 395.5 L126.3 395.0 L126.9 394.5 L127.5 393.9 L128.1 393.3 L128.7 392.6 L129.3 391.9 L129.9 391.2 L130.6 390.4 L131.2 389.6 L131.8 388.8 L132.4 387.9 L133.0 387.0 L133.6 386.2 L134.2 385.3 L134.8 384.4 L135.5 383.6 L136.1 382.8 L136.7 382.1 L137.3 381.4 L137.9 380.7 L138.5 380.2 L139.1 379.7 L139.8 379.3 L140.4 379.0 L141.0 378.7 L141.6 378.6 L142.2 378.6 L142.8 378.7 L143.4 378.9 L144.0 379.2 L144.7 379.5 L145.3 380.0 L145.9 380.5 L146.5 381.1 L147.1 381.8 L147.7 382.6 L148.3 383.3 L148.9 384.2 L149.6 385.0 L150.2 385.9 L150.8 386.7 L151.4 387.6 L152.0 388.5 L152.6 389.3 L153.2 390.1 L153.8 390.9 L154.4 391.7 L155.1 392.4 L155.7 393.1 L156.3 393.7 L156.9 394.3 L157.5 394.8 L158.1 395.3 L158.7 395.8 L159.3 396.2 L160.0 396.6 L160.6 396.9 L161.2 397.2 L161.8 397.5 L162.4 397.7 L163.0 397.9 L163.6 398.1 L164.2 398.2 L164.9 398.4 L165.5 398.5 L166.1 398.6 L166.7 398.6 L167.3 398.7 L167.9 398.8 L168.5 398.8 L169.2 398.8 L169.8 398.9 L170.4 398.9 L171.0 398.9 L171.6 398.9 L172.2 399.0 L172.8 399.0 L173.4 399.0 L174.1 399.0 L174.7 399.0 L175.3 399.0 L175.9 399.0 L176.5 399.0" fill="none" stroke="#e9a645" stroke-width="1.6" stroke-dasharray="3.6 2.8"/>
<path d="M74.4 310.6 V422" stroke="#c4582e" stroke-width="1.6" stroke-dasharray="3 2.8" fill="none"/>
<path d="M107.3 340.8 V422.6" stroke="#d97f3f" stroke-width="1.6" stroke-dasharray="3 2.8" fill="none"/>
<path d="M142 376.6 V431" stroke="#e9a645" stroke-width="1.6" stroke-dasharray="3 2.8" fill="none"/>
<text x="27" y="322.2" style="font-size:13.1px;fill:#a8482b;stroke:#a8482b">Cell 1</text>
<text x="27.5" y="365.6" style="font-size:13.1px;fill:#d97f3f;stroke:#d97f3f">Cell ...</text>
<text x="27.5" y="393.2" style="font-size:13.1px;fill:#e9a645;stroke:#e9a645">Cell n</text>
<path d="M21 338.5 V373.2" stroke="#1c1c1c" stroke-width="1.6" fill="none"/>
<text text-anchor="middle" transform="translate(13.6 354.6) rotate(-90)" style="font-size:12.4px;fill:#222;stroke:#222">ΔF/F</text>
<path d="M29.7 417 H175.7 M29.7 413.6 V420 M175.7 413.6 V420" stroke="#3a3a3a" stroke-width="1.4" fill="none"/>
<text x="26" y="432.8" style="font-size:12.8px;fill:#222;stroke:#222">0</text>
<text x="145" y="430.8" style="font-size:13.4px;fill:#222;stroke:#222">200 cm</text>
<text x="36.8" y="448.6" style="font-size:16px;fill:#222;stroke:#222">Preferred locations</text>
<path d="M44.4 403.2 L46.2 404.6 H49.9 L51.7 403.2 Q52.4 406 51.8 408.6 Q52.2 411 51 413.2 Q49.8 415.4 48.05 415.4 Q46.3 415.4 45.1 413.2 Q43.9 411 44.3 408.6 Q43.7 406 44.4 403.2 Z" fill="#f0b133"/>
<circle cx="46.6" cy="406.9" r="1" fill="#f9e6a0"/><circle cx="49.5" cy="406.9" r="1" fill="#f9e6a0"/>
<g fill="#d8447c"><circle cx="79.8" cy="407.4" r="2.9"/><circle cx="79.8" cy="407.4" r="1.1" fill="#fff"/><path d="M79.6 410 V414.2" stroke="#d8447c" stroke-width="1" fill="none"/><path d="M76.2 411.4 Q78.2 414 79.6 412.8 Q81 414 83.2 411.6 Q81 410.4 79.6 412.2 Q78.2 410.2 76.2 411.4Z"/></g>
<g fill="#0f7a3e"><rect x="116.6" y="410" width="2.2" height="6.6"/><circle cx="117.7" cy="405.8" r="3.8"/><circle cx="114.4" cy="408.2" r="3.2"/><circle cx="121" cy="408.2" r="3.2"/><circle cx="117.7" cy="409.4" r="3.4"/><circle cx="115.2" cy="405.4" r="2.6"/><circle cx="120.2" cy="405.4" r="2.6"/></g>
<g><path d="M153.9 408.6 Q153.5 404.7 157.8 404.7 Q162.1 404.7 161.7 408.6 Q161.5 410 157.8 410 Q154.1 410 153.9 408.6 Z" fill="#dc2a26"/><rect x="155.4" y="409" width="4.8" height="6" rx="2" fill="#e0352c"/><circle cx="156.3" cy="407" r="0.9" fill="#fbe4d8"/><circle cx="159.3" cy="407" r="0.9" fill="#fbe4d8"/><circle cx="157.8" cy="411.6" r="0.8" fill="#fbe4d8"/></g>
<path d="M40.5 472.8 H50.2" stroke="#111" stroke-width="1.9" fill="none"/>
<text x="54.8" y="477" style="font-size:13.7px;fill:#222;stroke:#222">Mean</text>
<path d="M95.5 530.0 L95.8 527.5 L96.1 525.0 L96.4 522.7 L96.7 520.3 L97.0 518.1 L97.3 515.8 L97.6 513.7 L97.9 511.6 L98.2 509.6 L98.5 507.6 L98.9 505.7 L99.2 503.8 L99.5 502.0 L99.8 500.3 L100.1 498.6 L100.4 497.0 L100.7 495.4 L101.0 494.0 L101.3 492.5 L101.6 491.2 L101.9 489.8 L102.2 488.6 L102.6 487.4 L102.9 486.3 L103.2 485.2 L103.5 484.2 L103.8 483.3 L104.1 482.4 L104.4 481.6 L104.7 480.9 L105.0 480.2 L105.3 479.6 L105.6 479.1 L105.9 478.6 L106.3 478.2 L106.6 477.8 L106.9 477.6 L107.2 477.4 L107.5 477.2 L107.8 477.2 L108.1 477.2 L108.4 477.4 L108.7 477.6 L109.0 477.8 L109.3 478.2 L109.7 478.6 L110.0 479.1 L110.3 479.6 L110.6 480.2 L110.9 480.9 L111.2 481.6 L111.5 482.4 L111.8 483.3 L112.1 484.2 L112.4 485.2 L112.7 486.3 L113.0 487.4 L113.4 488.6 L113.7 489.8 L114.0 491.2 L114.3 492.5 L114.6 494.0 L114.9 495.4 L115.2 497.0 L115.5 498.6 L115.8 500.3 L116.1 502.0 L116.4 503.8 L116.7 505.7 L117.1 507.6 L117.4 509.6 L117.7 511.6 L118.0 513.7 L118.3 515.8 L118.6 518.1 L118.9 520.3 L119.2 522.7 L119.5 525.0 L119.8 527.5 L120.1 530.0" fill="none" stroke="#d97f3f" stroke-width="1.4" stroke-dasharray="2.6 2.6"/>
<path d="M99.6 530.0 L99.8 528.6 L100.0 527.2 L100.2 525.9 L100.4 524.6 L100.6 523.3 L100.8 522.0 L101.0 520.7 L101.2 519.5 L101.4 518.3 L101.6 517.1 L101.8 515.9 L102.0 514.8 L102.2 513.7 L102.4 512.6 L102.7 511.5 L102.9 510.5 L103.1 509.4 L103.3 508.4 L103.5 507.5 L103.7 506.5 L103.9 505.6 L104.1 504.8 L104.3 503.9 L104.5 503.1 L104.7 502.3 L104.9 501.5 L105.1 500.8 L105.3 500.1 L105.5 499.4 L105.7 498.8 L105.9 498.2 L106.2 497.7 L106.4 497.2 L106.6 496.7 L106.8 496.3 L107.0 495.9 L107.2 495.6 L107.4 495.3 L107.6 495.1 L107.8 495.0 L108.0 495.1 L108.2 495.3 L108.4 495.6 L108.6 495.9 L108.8 496.3 L109.0 496.7 L109.2 497.2 L109.4 497.7 L109.7 498.2 L109.9 498.8 L110.1 499.4 L110.3 500.1 L110.5 500.8 L110.7 501.5 L110.9 502.3 L111.1 503.1 L111.3 503.9 L111.5 504.8 L111.7 505.6 L111.9 506.5 L112.1 507.5 L112.3 508.4 L112.5 509.4 L112.7 510.5 L112.9 511.5 L113.2 512.6 L113.4 513.7 L113.6 514.8 L113.8 515.9 L114.0 517.1 L114.2 518.3 L114.4 519.5 L114.6 520.7 L114.8 522.0 L115.0 523.3 L115.2 524.6 L115.4 525.9 L115.6 527.2 L115.8 528.6 L116.0 530.0" fill="none" stroke="#a8482b" stroke-width="1.3" stroke-dasharray="2.4 2.6"/>
<path d="M101.7 530.0 L101.9 529.1 L102.0 528.3 L102.2 527.5 L102.3 526.7 L102.5 525.9 L102.6 525.1 L102.8 524.3 L102.9 523.5 L103.1 522.8 L103.2 522.1 L103.4 521.4 L103.6 520.7 L103.7 520.0 L103.9 519.3 L104.0 518.6 L104.2 518.0 L104.3 517.4 L104.5 516.8 L104.6 516.2 L104.8 515.6 L104.9 515.0 L105.1 514.5 L105.2 514.0 L105.4 513.5 L105.5 513.0 L105.7 512.5 L105.8 512.1 L106.0 511.6 L106.1 511.2 L106.3 510.8 L106.4 510.5 L106.6 510.1 L106.7 509.8 L106.9 509.5 L107.0 509.3 L107.2 509.0 L107.3 508.8 L107.5 508.7 L107.6 508.6 L107.8 508.5 L108.0 508.6 L108.1 508.7 L108.3 508.8 L108.4 509.0 L108.6 509.3 L108.7 509.5 L108.9 509.8 L109.0 510.1 L109.2 510.5 L109.3 510.8 L109.5 511.2 L109.6 511.6 L109.8 512.1 L109.9 512.5 L110.1 513.0 L110.2 513.5 L110.4 514.0 L110.5 514.5 L110.7 515.0 L110.8 515.6 L111.0 516.2 L111.1 516.8 L111.3 517.4 L111.4 518.0 L111.6 518.6 L111.7 519.3 L111.9 520.0 L112.0 520.7 L112.2 521.4 L112.4 522.1 L112.5 522.8 L112.7 523.5 L112.8 524.3 L113.0 525.1 L113.1 525.9 L113.3 526.7 L113.4 527.5 L113.6 528.3 L113.7 529.1 L113.9 530.0" fill="none" stroke="#e9a645" stroke-width="1.3" stroke-dasharray="2.4 2.6"/>
<path d="M107.8 473 V475" stroke="#222" stroke-width="1.6" fill="none"/>
<path d="M107.8 479 V512" stroke="#222" stroke-width="1.6" stroke-dasharray="3 3.8" fill="none"/>
<path d="M94.4 530.0 L94.7 528.7 L95.1 527.5 L95.4 526.2 L95.7 525.0 L96.1 523.7 L96.4 522.5 L96.7 521.3 L97.1 520.1 L97.4 518.9 L97.8 517.7 L98.1 516.5 L98.4 515.4 L98.8 514.2 L99.1 513.1 L99.4 512.0 L99.8 510.9 L100.1 509.8 L100.4 508.7 L100.8 507.6 L101.1 506.6 L101.4 505.6 L101.8 504.6 L102.1 503.6 L102.4 502.6 L102.8 501.6 L103.1 500.7 L103.4 499.7 L103.8 498.8 L104.1 498.0 L104.5 497.1 L104.8 496.3 L105.1 495.5 L105.5 494.7 L105.8 493.9 L106.1 493.2 L106.5 492.6 L106.8 492.0 L107.1 491.4 L107.5 490.9 L107.8 490.6 L108.1 490.9 L108.5 491.4 L108.8 492.0 L109.1 492.6 L109.5 493.2 L109.8 493.9 L110.1 494.7 L110.5 495.5 L110.8 496.3 L111.1 497.1 L111.5 498.0 L111.8 498.8 L112.2 499.7 L112.5 500.7 L112.8 501.6 L113.2 502.6 L113.5 503.6 L113.8 504.6 L114.2 505.6 L114.5 506.6 L114.8 507.6 L115.2 508.7 L115.5 509.8 L115.8 510.9 L116.2 512.0 L116.5 513.1 L116.8 514.2 L117.2 515.4 L117.5 516.5 L117.8 517.7 L118.2 518.9 L118.5 520.1 L118.9 521.3 L119.2 522.5 L119.5 523.7 L119.9 525.0 L120.2 526.2 L120.5 527.5 L120.9 528.7 L121.2 530.0" fill="none" stroke="#111" stroke-width="2" stroke-linejoin="round"/>
</svg>
</body></html>
